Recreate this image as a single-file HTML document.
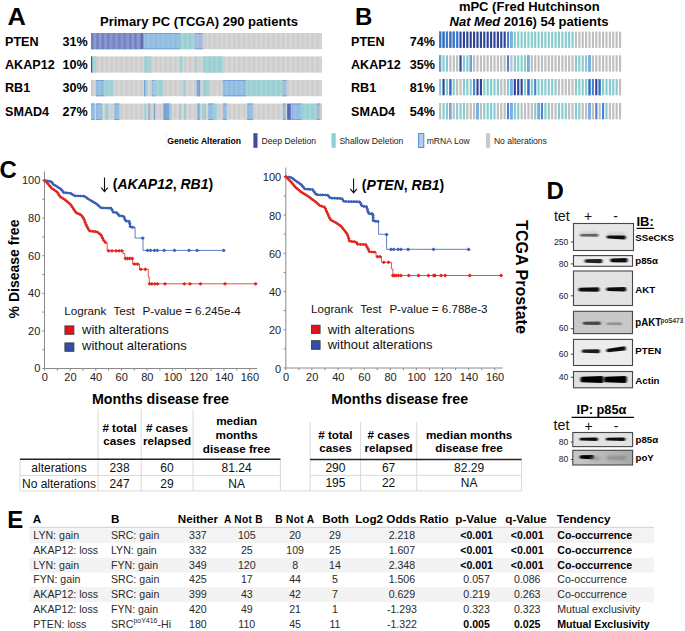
<!DOCTYPE html>
<html><head><meta charset="utf-8"><style>
html,body{margin:0;padding:0;background:#fff;}
svg{display:block;}
text{font-family:"Liberation Sans", sans-serif;}
</style></head><body>
<svg width="685" height="631" viewBox="0 0 685 631" font-family="Liberation Sans, sans-serif">
<defs><pattern id="stripeA" x="91" y="0" width="4.9" height="10" patternUnits="userSpaceOnUse"><rect x="0" y="0" width="2.2" height="10" fill="#000" fill-opacity="0.045"/></pattern><pattern id="stripeDD" x="91" y="0" width="5.4" height="10" patternUnits="userSpaceOnUse"><rect x="0" y="0" width="2.4" height="10" fill="#1a2a80" fill-opacity="0.2"/></pattern><filter id="bl1" x="-20%" y="-200%" width="140%" height="500%"><feGaussianBlur stdDeviation="1.0 0.75"/></filter><filter id="bl2" x="-20%" y="-200%" width="140%" height="500%"><feGaussianBlur stdDeviation="1.6 1.4"/></filter><linearGradient id="g5" x1="0" x2="1" y1="0" y2="0"><stop offset="0" stop-color="#c9c9c9"/><stop offset="1" stop-color="#a9a9a9"/></linearGradient></defs>
<rect width="685" height="631" fill="#fff"/>
<text x="355" y="24.5" font-size="24" font-weight="bold" fill="#000">B</text>
<text x="-0.5" y="177.6" font-size="24" font-weight="bold" fill="#000">C</text>
<text x="546.5" y="198.5" font-size="24" font-weight="bold" fill="#000">D</text>
<text x="7.3" y="528" font-size="24" font-weight="bold" fill="#000">E</text>
<text x="0" y="0" font-size="24" font-weight="bold" transform="translate(7.6,25) scale(1.06,1)">A</text>
<text x="100" y="26" font-size="13" font-weight="bold" fill="#000">Primary PC (TCGA) 290 patients</text>
<text x="529.3" y="11" font-size="13" font-weight="bold" text-anchor="middle" fill="#000">mPC (Fred Hutchinson</text>
<text x="529" y="26.3" font-size="13" font-weight="bold" text-anchor="middle"><tspan font-style="italic">Nat Med</tspan> 2016) 54 patients</text>
<text x="5" y="45.5" font-size="12.6" font-weight="bold" fill="#000">PTEN</text>
<text x="87.8" y="45.5" font-size="12.6" font-weight="bold" text-anchor="end" fill="#000">31%</text>
<text x="351" y="45.5" font-size="12.6" font-weight="bold" fill="#000">PTEN</text>
<text x="435" y="45.5" font-size="12.6" font-weight="bold" text-anchor="end" fill="#000">74%</text>
<text x="5" y="69" font-size="12.6" font-weight="bold" fill="#000">AKAP12</text>
<text x="87.8" y="69" font-size="12.6" font-weight="bold" text-anchor="end" fill="#000">10%</text>
<text x="351" y="69" font-size="12.6" font-weight="bold" fill="#000">AKAP12</text>
<text x="435" y="69" font-size="12.6" font-weight="bold" text-anchor="end" fill="#000">35%</text>
<text x="5" y="92.4" font-size="12.6" font-weight="bold" fill="#000">RB1</text>
<text x="87.8" y="92.4" font-size="12.6" font-weight="bold" text-anchor="end" fill="#000">30%</text>
<text x="351" y="92.4" font-size="12.6" font-weight="bold" fill="#000">RB1</text>
<text x="435" y="92.4" font-size="12.6" font-weight="bold" text-anchor="end" fill="#000">81%</text>
<text x="5" y="115.8" font-size="12.6" font-weight="bold" fill="#000">SMAD4</text>
<text x="87.8" y="115.8" font-size="12.6" font-weight="bold" text-anchor="end" fill="#000">27%</text>
<text x="351" y="115.8" font-size="12.6" font-weight="bold" fill="#000">SMAD4</text>
<text x="435" y="115.8" font-size="12.6" font-weight="bold" text-anchor="end" fill="#000">54%</text>
<rect x="91.00" y="33.00" width="231.00" height="16.20" fill="#d6d6d6"/>
<rect x="91.00" y="33.00" width="49.60" height="16.20" fill="#8d9bd4"/>
<rect x="91.00" y="33.00" width="49.60" height="0.80" fill="#6f9fde"/>
<rect x="91.00" y="48.40" width="49.60" height="0.80" fill="#6f9fde"/>
<rect x="140.60" y="33.00" width="3.10" height="16.20" fill="#6670b6"/>
<rect x="143.70" y="33.00" width="36.30" height="16.20" fill="#98c3e6"/>
<rect x="143.70" y="33.00" width="36.30" height="0.80" fill="#6f9fde"/>
<rect x="143.70" y="48.40" width="36.30" height="0.80" fill="#6f9fde"/>
<rect x="180.00" y="33.00" width="14.90" height="16.20" fill="#a3d6d9"/>
<rect x="194.90" y="33.00" width="7.90" height="16.20" fill="#aebde3"/>
<rect x="194.90" y="33.00" width="7.90" height="0.80" fill="#6f9fde"/>
<rect x="194.90" y="48.40" width="7.90" height="0.80" fill="#6f9fde"/>
<rect x="91.00" y="33.00" width="231.00" height="16.20" fill="url(#stripeA)"/>
<rect x="91.00" y="56.40" width="231.00" height="16.20" fill="#d6d6d6"/>
<rect x="91.00" y="56.40" width="1.40" height="16.20" fill="#4a55a8"/>
<rect x="92.40" y="56.40" width="3.50" height="16.20" fill="#a3d6d9"/>
<rect x="144.00" y="56.40" width="6.70" height="16.20" fill="#a3d6d9"/>
<rect x="180.00" y="56.40" width="2.60" height="16.20" fill="#a3d6d9"/>
<rect x="195.70" y="56.40" width="1.80" height="16.20" fill="#a3d6d9"/>
<rect x="202.70" y="56.40" width="20.10" height="16.20" fill="#a3d6d9"/>
<rect x="91.00" y="56.40" width="231.00" height="16.20" fill="url(#stripeA)"/>
<rect x="91.00" y="80.00" width="231.00" height="16.20" fill="#d6d6d6"/>
<rect x="95.90" y="80.00" width="8.70" height="16.20" fill="#98c3e6"/>
<rect x="95.90" y="80.00" width="8.70" height="0.80" fill="#6f9fde"/>
<rect x="95.90" y="95.40" width="8.70" height="0.80" fill="#6f9fde"/>
<rect x="104.60" y="80.00" width="8.80" height="16.20" fill="#a3d6d9"/>
<rect x="144.00" y="80.00" width="1.50" height="16.20" fill="#7fa6dc"/>
<rect x="144.00" y="80.00" width="1.50" height="0.80" fill="#6f9fde"/>
<rect x="144.00" y="95.40" width="1.50" height="0.80" fill="#6f9fde"/>
<rect x="145.50" y="80.00" width="2.10" height="16.20" fill="#a3d6d9"/>
<rect x="152.00" y="80.00" width="2.60" height="16.20" fill="#98c3e6"/>
<rect x="152.00" y="80.00" width="2.60" height="0.80" fill="#6f9fde"/>
<rect x="152.00" y="95.40" width="2.60" height="0.80" fill="#6f9fde"/>
<rect x="154.60" y="80.00" width="8.70" height="16.20" fill="#a3d6d9"/>
<rect x="182.60" y="80.00" width="2.60" height="16.20" fill="#a3d6d9"/>
<rect x="196.60" y="80.00" width="3.50" height="16.20" fill="#7fa6dc"/>
<rect x="196.60" y="80.00" width="3.50" height="0.80" fill="#6f9fde"/>
<rect x="196.60" y="95.40" width="3.50" height="0.80" fill="#6f9fde"/>
<rect x="202.80" y="80.00" width="6.00" height="16.20" fill="#a3d6d9"/>
<rect x="222.80" y="80.00" width="23.70" height="16.20" fill="#98c3e6"/>
<rect x="222.80" y="80.00" width="23.70" height="0.80" fill="#6f9fde"/>
<rect x="222.80" y="95.40" width="23.70" height="0.80" fill="#6f9fde"/>
<rect x="246.50" y="80.00" width="36.50" height="16.20" fill="#a3d6d9"/>
<rect x="283.00" y="80.00" width="3.70" height="16.20" fill="#aebde3"/>
<rect x="283.00" y="80.00" width="3.70" height="0.80" fill="#6f9fde"/>
<rect x="283.00" y="95.40" width="3.70" height="0.80" fill="#6f9fde"/>
<rect x="91.00" y="80.00" width="231.00" height="16.20" fill="url(#stripeA)"/>
<rect x="91.00" y="103.60" width="231.00" height="16.20" fill="#d6d6d6"/>
<rect x="91.00" y="103.60" width="4.00" height="16.20" fill="#98c3e6"/>
<rect x="91.00" y="103.60" width="4.00" height="0.80" fill="#6f9fde"/>
<rect x="91.00" y="119.00" width="4.00" height="0.80" fill="#6f9fde"/>
<rect x="96.00" y="103.60" width="6.00" height="16.20" fill="#98c3e6"/>
<rect x="96.00" y="103.60" width="6.00" height="0.80" fill="#6f9fde"/>
<rect x="96.00" y="119.00" width="6.00" height="0.80" fill="#6f9fde"/>
<rect x="104.60" y="103.60" width="4.10" height="16.20" fill="#a3d6d9"/>
<rect x="114.00" y="103.60" width="5.50" height="16.20" fill="#98c3e6"/>
<rect x="114.00" y="103.60" width="5.50" height="0.80" fill="#6f9fde"/>
<rect x="114.00" y="119.00" width="5.50" height="0.80" fill="#6f9fde"/>
<rect x="144.00" y="103.60" width="1.80" height="16.20" fill="#a3d6d9"/>
<rect x="148.40" y="103.60" width="1.30" height="16.20" fill="#7fa6dc"/>
<rect x="148.40" y="103.60" width="1.30" height="0.80" fill="#6f9fde"/>
<rect x="148.40" y="119.00" width="1.30" height="0.80" fill="#6f9fde"/>
<rect x="153.70" y="103.60" width="1.30" height="16.20" fill="#7fa6dc"/>
<rect x="153.70" y="103.60" width="1.30" height="0.80" fill="#6f9fde"/>
<rect x="153.70" y="119.00" width="1.30" height="0.80" fill="#6f9fde"/>
<rect x="163.30" y="103.60" width="6.20" height="16.20" fill="#7fa6dc"/>
<rect x="163.30" y="103.60" width="6.20" height="0.80" fill="#6f9fde"/>
<rect x="163.30" y="119.00" width="6.20" height="0.80" fill="#6f9fde"/>
<rect x="169.50" y="103.60" width="2.00" height="16.20" fill="#a3d6d9"/>
<rect x="179.00" y="103.60" width="1.70" height="16.20" fill="#a3d6d9"/>
<rect x="184.00" y="103.60" width="2.00" height="16.20" fill="#a3d6d9"/>
<rect x="197.50" y="103.60" width="2.00" height="16.20" fill="#7fa6dc"/>
<rect x="197.50" y="103.60" width="2.00" height="0.80" fill="#6f9fde"/>
<rect x="197.50" y="119.00" width="2.00" height="0.80" fill="#6f9fde"/>
<rect x="202.00" y="103.60" width="4.00" height="16.20" fill="#a3d6d9"/>
<rect x="208.20" y="103.60" width="5.50" height="16.20" fill="#98c3e6"/>
<rect x="208.20" y="103.60" width="5.50" height="0.80" fill="#6f9fde"/>
<rect x="208.20" y="119.00" width="5.50" height="0.80" fill="#6f9fde"/>
<rect x="213.70" y="103.60" width="3.60" height="16.20" fill="#a3d6d9"/>
<rect x="222.80" y="103.60" width="4.20" height="16.20" fill="#98c3e6"/>
<rect x="222.80" y="103.60" width="4.20" height="0.80" fill="#6f9fde"/>
<rect x="222.80" y="119.00" width="4.20" height="0.80" fill="#6f9fde"/>
<rect x="247.00" y="103.60" width="6.00" height="16.20" fill="#98c3e6"/>
<rect x="247.00" y="103.60" width="6.00" height="0.80" fill="#6f9fde"/>
<rect x="247.00" y="119.00" width="6.00" height="0.80" fill="#6f9fde"/>
<rect x="283.00" y="103.60" width="2.80" height="16.20" fill="#98c3e6"/>
<rect x="283.00" y="103.60" width="2.80" height="0.80" fill="#6f9fde"/>
<rect x="283.00" y="119.00" width="2.80" height="0.80" fill="#6f9fde"/>
<rect x="287.20" y="103.60" width="3.70" height="16.20" fill="#5a6bba"/>
<rect x="290.90" y="103.60" width="10.90" height="16.20" fill="#98c3e6"/>
<rect x="290.90" y="103.60" width="10.90" height="0.80" fill="#6f9fde"/>
<rect x="290.90" y="119.00" width="10.90" height="0.80" fill="#6f9fde"/>
<rect x="301.80" y="103.60" width="15.00" height="16.20" fill="#a3d6d9"/>
<rect x="316.80" y="103.60" width="3.60" height="16.20" fill="#aebde3"/>
<rect x="316.80" y="103.60" width="3.60" height="0.80" fill="#6f9fde"/>
<rect x="316.80" y="119.00" width="3.60" height="0.80" fill="#6f9fde"/>
<rect x="91.00" y="103.60" width="231.00" height="16.20" fill="url(#stripeA)"/>
<rect x="91.00" y="33.00" width="49.60" height="16.20" fill="url(#stripeDD)"/>
<rect x="439.10" y="31.60" width="2.15" height="16.30" fill="#2d4fa8"/>
<rect x="439.50" y="32.00" width="1.35" height="15.50" fill="none" stroke="#4a8fd8" stroke-width="0.8"/>
<rect x="442.49" y="31.60" width="2.15" height="16.30" fill="#2d4fa8"/>
<rect x="442.89" y="32.00" width="1.35" height="15.50" fill="none" stroke="#4a8fd8" stroke-width="0.8"/>
<rect x="445.89" y="31.60" width="2.15" height="16.30" fill="#2d4fa8"/>
<rect x="446.29" y="32.00" width="1.35" height="15.50" fill="none" stroke="#4a8fd8" stroke-width="0.8"/>
<rect x="449.28" y="31.60" width="2.15" height="16.30" fill="#2d4fa8"/>
<rect x="449.68" y="32.00" width="1.35" height="15.50" fill="none" stroke="#4a8fd8" stroke-width="0.8"/>
<rect x="452.68" y="31.60" width="2.15" height="16.30" fill="#2d4fa8"/>
<rect x="453.08" y="32.00" width="1.35" height="15.50" fill="none" stroke="#4a8fd8" stroke-width="0.8"/>
<rect x="456.07" y="31.60" width="2.15" height="16.30" fill="#2d4fa8"/>
<rect x="456.47" y="32.00" width="1.35" height="15.50" fill="none" stroke="#4a8fd8" stroke-width="0.8"/>
<rect x="459.46" y="31.60" width="2.15" height="16.30" fill="#2f4398"/>
<rect x="462.86" y="31.60" width="2.15" height="16.30" fill="#2f4398"/>
<rect x="466.25" y="31.60" width="2.15" height="16.30" fill="#2f4398"/>
<rect x="469.65" y="31.60" width="2.15" height="16.30" fill="#2f4398"/>
<rect x="473.04" y="31.60" width="2.15" height="16.30" fill="#2f4398"/>
<rect x="476.43" y="31.60" width="2.15" height="16.30" fill="#2f4398"/>
<rect x="479.83" y="31.60" width="2.15" height="16.30" fill="#2f4398"/>
<rect x="483.22" y="31.60" width="2.15" height="16.30" fill="#2f4398"/>
<rect x="486.62" y="31.60" width="2.15" height="16.30" fill="#2f4398"/>
<rect x="490.01" y="31.60" width="2.15" height="16.30" fill="#2f4398"/>
<rect x="493.40" y="31.60" width="2.15" height="16.30" fill="#2f4398"/>
<rect x="496.80" y="31.60" width="2.15" height="16.30" fill="#2f4398"/>
<rect x="500.19" y="31.60" width="2.15" height="16.30" fill="#2f4398"/>
<rect x="503.59" y="31.60" width="2.15" height="16.30" fill="#2f4398"/>
<rect x="506.98" y="31.60" width="2.15" height="16.30" fill="#4b82cf"/>
<rect x="510.37" y="31.60" width="2.15" height="16.30" fill="#a9c4e6"/>
<rect x="510.77" y="32.00" width="1.35" height="15.50" fill="none" stroke="#4a8fd8" stroke-width="0.8"/>
<rect x="513.77" y="31.60" width="2.15" height="16.30" fill="#86cccf"/>
<rect x="517.16" y="31.60" width="2.15" height="16.30" fill="#86cccf"/>
<rect x="520.56" y="31.60" width="2.15" height="16.30" fill="#86cccf"/>
<rect x="523.95" y="31.60" width="2.15" height="16.30" fill="#86cccf"/>
<rect x="527.34" y="31.60" width="2.15" height="16.30" fill="#86cccf"/>
<rect x="530.74" y="31.60" width="2.15" height="16.30" fill="#86cccf"/>
<rect x="534.13" y="31.60" width="2.15" height="16.30" fill="#86cccf"/>
<rect x="537.53" y="31.60" width="2.15" height="16.30" fill="#86cccf"/>
<rect x="540.92" y="31.60" width="2.15" height="16.30" fill="#86cccf"/>
<rect x="544.31" y="31.60" width="2.15" height="16.30" fill="#86cccf"/>
<rect x="547.71" y="31.60" width="2.15" height="16.30" fill="#86cccf"/>
<rect x="551.10" y="31.60" width="2.15" height="16.30" fill="#86cccf"/>
<rect x="554.50" y="31.60" width="2.15" height="16.30" fill="#86cccf"/>
<rect x="557.89" y="31.60" width="2.15" height="16.30" fill="#86cccf"/>
<rect x="561.28" y="31.60" width="2.15" height="16.30" fill="#86cccf"/>
<rect x="564.68" y="31.60" width="2.15" height="16.30" fill="#86cccf"/>
<rect x="568.07" y="31.60" width="2.15" height="16.30" fill="#86cccf"/>
<rect x="571.47" y="31.60" width="2.15" height="16.30" fill="#86cccf"/>
<rect x="574.86" y="31.60" width="2.15" height="16.30" fill="#bfbfbf"/>
<rect x="578.25" y="31.60" width="2.15" height="16.30" fill="#bfbfbf"/>
<rect x="581.65" y="31.60" width="2.15" height="16.30" fill="#bfbfbf"/>
<rect x="585.04" y="31.60" width="2.15" height="16.30" fill="#bfbfbf"/>
<rect x="588.44" y="31.60" width="2.15" height="16.30" fill="#bfbfbf"/>
<rect x="591.83" y="31.60" width="2.15" height="16.30" fill="#bfbfbf"/>
<rect x="595.22" y="31.60" width="2.15" height="16.30" fill="#bfbfbf"/>
<rect x="598.62" y="31.60" width="2.15" height="16.30" fill="#bfbfbf"/>
<rect x="602.01" y="31.60" width="2.15" height="16.30" fill="#bfbfbf"/>
<rect x="605.41" y="31.60" width="2.15" height="16.30" fill="#bfbfbf"/>
<rect x="608.80" y="31.60" width="2.15" height="16.30" fill="#bfbfbf"/>
<rect x="612.19" y="31.60" width="2.15" height="16.30" fill="#bfbfbf"/>
<rect x="615.59" y="31.60" width="2.15" height="16.30" fill="#bfbfbf"/>
<rect x="618.98" y="31.60" width="2.15" height="16.30" fill="#bfbfbf"/>
<rect x="439.10" y="55.30" width="2.15" height="16.30" fill="#a9c4e6"/>
<rect x="439.50" y="55.70" width="1.35" height="15.50" fill="none" stroke="#4a8fd8" stroke-width="0.8"/>
<rect x="442.49" y="55.30" width="2.15" height="16.30" fill="#86cccf"/>
<rect x="445.89" y="55.30" width="2.15" height="16.30" fill="#86cccf"/>
<rect x="449.28" y="55.30" width="2.15" height="16.30" fill="#bfbfbf"/>
<rect x="452.68" y="55.30" width="2.15" height="16.30" fill="#bfbfbf"/>
<rect x="456.07" y="55.30" width="2.15" height="16.30" fill="#bfbfbf"/>
<rect x="459.46" y="55.30" width="2.15" height="16.30" fill="#2f4398"/>
<rect x="462.86" y="55.30" width="2.15" height="16.30" fill="#86cccf"/>
<rect x="466.25" y="55.30" width="2.15" height="16.30" fill="#86cccf"/>
<rect x="469.65" y="55.30" width="2.15" height="16.30" fill="#a9c4e6"/>
<rect x="470.05" y="55.70" width="1.35" height="15.50" fill="none" stroke="#4a8fd8" stroke-width="0.8"/>
<rect x="473.04" y="55.30" width="2.15" height="16.30" fill="#bfbfbf"/>
<rect x="476.43" y="55.30" width="2.15" height="16.30" fill="#bfbfbf"/>
<rect x="479.83" y="55.30" width="2.15" height="16.30" fill="#bfbfbf"/>
<rect x="483.22" y="55.30" width="2.15" height="16.30" fill="#bfbfbf"/>
<rect x="486.62" y="55.30" width="2.15" height="16.30" fill="#bfbfbf"/>
<rect x="490.01" y="55.30" width="2.15" height="16.30" fill="#bfbfbf"/>
<rect x="493.40" y="55.30" width="2.15" height="16.30" fill="#bfbfbf"/>
<rect x="496.80" y="55.30" width="2.15" height="16.30" fill="#bfbfbf"/>
<rect x="500.19" y="55.30" width="2.15" height="16.30" fill="#bfbfbf"/>
<rect x="503.59" y="55.30" width="2.15" height="16.30" fill="#bfbfbf"/>
<rect x="506.98" y="55.30" width="2.15" height="16.30" fill="#4b82cf"/>
<rect x="510.37" y="55.30" width="2.15" height="16.30" fill="#bfbfbf"/>
<rect x="513.77" y="55.30" width="2.15" height="16.30" fill="#86cccf"/>
<rect x="517.16" y="55.30" width="2.15" height="16.30" fill="#86cccf"/>
<rect x="520.56" y="55.30" width="2.15" height="16.30" fill="#86cccf"/>
<rect x="523.95" y="55.30" width="2.15" height="16.30" fill="#86cccf"/>
<rect x="527.34" y="55.30" width="2.15" height="16.30" fill="#a9c4e6"/>
<rect x="527.74" y="55.70" width="1.35" height="15.50" fill="none" stroke="#4a8fd8" stroke-width="0.8"/>
<rect x="530.74" y="55.30" width="2.15" height="16.30" fill="#bfbfbf"/>
<rect x="534.13" y="55.30" width="2.15" height="16.30" fill="#bfbfbf"/>
<rect x="537.53" y="55.30" width="2.15" height="16.30" fill="#bfbfbf"/>
<rect x="540.92" y="55.30" width="2.15" height="16.30" fill="#bfbfbf"/>
<rect x="544.31" y="55.30" width="2.15" height="16.30" fill="#bfbfbf"/>
<rect x="547.71" y="55.30" width="2.15" height="16.30" fill="#bfbfbf"/>
<rect x="551.10" y="55.30" width="2.15" height="16.30" fill="#bfbfbf"/>
<rect x="554.50" y="55.30" width="2.15" height="16.30" fill="#bfbfbf"/>
<rect x="557.89" y="55.30" width="2.15" height="16.30" fill="#bfbfbf"/>
<rect x="561.28" y="55.30" width="2.15" height="16.30" fill="#bfbfbf"/>
<rect x="564.68" y="55.30" width="2.15" height="16.30" fill="#bfbfbf"/>
<rect x="568.07" y="55.30" width="2.15" height="16.30" fill="#bfbfbf"/>
<rect x="571.47" y="55.30" width="2.15" height="16.30" fill="#bfbfbf"/>
<rect x="574.86" y="55.30" width="2.15" height="16.30" fill="#86cccf"/>
<rect x="578.25" y="55.30" width="2.15" height="16.30" fill="#86cccf"/>
<rect x="581.65" y="55.30" width="2.15" height="16.30" fill="#86cccf"/>
<rect x="585.04" y="55.30" width="2.15" height="16.30" fill="#86cccf"/>
<rect x="588.44" y="55.30" width="2.15" height="16.30" fill="#a9c4e6"/>
<rect x="588.84" y="55.70" width="1.35" height="15.50" fill="none" stroke="#4a8fd8" stroke-width="0.8"/>
<rect x="591.83" y="55.30" width="2.15" height="16.30" fill="#bfbfbf"/>
<rect x="595.22" y="55.30" width="2.15" height="16.30" fill="#bfbfbf"/>
<rect x="598.62" y="55.30" width="2.15" height="16.30" fill="#bfbfbf"/>
<rect x="602.01" y="55.30" width="2.15" height="16.30" fill="#bfbfbf"/>
<rect x="605.41" y="55.30" width="2.15" height="16.30" fill="#bfbfbf"/>
<rect x="608.80" y="55.30" width="2.15" height="16.30" fill="#bfbfbf"/>
<rect x="612.19" y="55.30" width="2.15" height="16.30" fill="#bfbfbf"/>
<rect x="615.59" y="55.30" width="2.15" height="16.30" fill="#bfbfbf"/>
<rect x="618.98" y="55.30" width="2.15" height="16.30" fill="#bfbfbf"/>
<rect x="439.10" y="79.00" width="2.15" height="16.30" fill="#86cccf"/>
<rect x="442.49" y="79.00" width="2.15" height="16.30" fill="#2f4398"/>
<rect x="445.89" y="79.00" width="2.15" height="16.30" fill="#86cccf"/>
<rect x="449.28" y="79.00" width="2.15" height="16.30" fill="#2d4fa8"/>
<rect x="449.68" y="79.40" width="1.35" height="15.50" fill="none" stroke="#4a8fd8" stroke-width="0.8"/>
<rect x="452.68" y="79.00" width="2.15" height="16.30" fill="#86cccf"/>
<rect x="456.07" y="79.00" width="2.15" height="16.30" fill="#bfbfbf"/>
<rect x="459.46" y="79.00" width="2.15" height="16.30" fill="#bfbfbf"/>
<rect x="462.86" y="79.00" width="2.15" height="16.30" fill="#86cccf"/>
<rect x="466.25" y="79.00" width="2.15" height="16.30" fill="#86cccf"/>
<rect x="469.65" y="79.00" width="2.15" height="16.30" fill="#86cccf"/>
<rect x="473.04" y="79.00" width="2.15" height="16.30" fill="#4b82cf"/>
<rect x="476.43" y="79.00" width="2.15" height="16.30" fill="#2f4398"/>
<rect x="479.83" y="79.00" width="2.15" height="16.30" fill="#2f4398"/>
<rect x="483.22" y="79.00" width="2.15" height="16.30" fill="#86cccf"/>
<rect x="486.62" y="79.00" width="2.15" height="16.30" fill="#86cccf"/>
<rect x="490.01" y="79.00" width="2.15" height="16.30" fill="#86cccf"/>
<rect x="493.40" y="79.00" width="2.15" height="16.30" fill="#86cccf"/>
<rect x="496.80" y="79.00" width="2.15" height="16.30" fill="#86cccf"/>
<rect x="500.19" y="79.00" width="2.15" height="16.30" fill="#bfbfbf"/>
<rect x="503.59" y="79.00" width="2.15" height="16.30" fill="#bfbfbf"/>
<rect x="506.98" y="79.00" width="2.15" height="16.30" fill="#86cccf"/>
<rect x="510.37" y="79.00" width="2.15" height="16.30" fill="#a9c4e6"/>
<rect x="510.77" y="79.40" width="1.35" height="15.50" fill="none" stroke="#4a8fd8" stroke-width="0.8"/>
<rect x="513.77" y="79.00" width="2.15" height="16.30" fill="#2f4398"/>
<rect x="517.16" y="79.00" width="2.15" height="16.30" fill="#2f4398"/>
<rect x="520.56" y="79.00" width="2.15" height="16.30" fill="#2f4398"/>
<rect x="523.95" y="79.00" width="2.15" height="16.30" fill="#86cccf"/>
<rect x="527.34" y="79.00" width="2.15" height="16.30" fill="#2d4fa8"/>
<rect x="527.74" y="79.40" width="1.35" height="15.50" fill="none" stroke="#4a8fd8" stroke-width="0.8"/>
<rect x="530.74" y="79.00" width="2.15" height="16.30" fill="#86cccf"/>
<rect x="534.13" y="79.00" width="2.15" height="16.30" fill="#4b82cf"/>
<rect x="537.53" y="79.00" width="2.15" height="16.30" fill="#86cccf"/>
<rect x="540.92" y="79.00" width="2.15" height="16.30" fill="#86cccf"/>
<rect x="544.31" y="79.00" width="2.15" height="16.30" fill="#86cccf"/>
<rect x="547.71" y="79.00" width="2.15" height="16.30" fill="#86cccf"/>
<rect x="551.10" y="79.00" width="2.15" height="16.30" fill="#86cccf"/>
<rect x="554.50" y="79.00" width="2.15" height="16.30" fill="#86cccf"/>
<rect x="557.89" y="79.00" width="2.15" height="16.30" fill="#bfbfbf"/>
<rect x="561.28" y="79.00" width="2.15" height="16.30" fill="#bfbfbf"/>
<rect x="564.68" y="79.00" width="2.15" height="16.30" fill="#bfbfbf"/>
<rect x="568.07" y="79.00" width="2.15" height="16.30" fill="#bfbfbf"/>
<rect x="571.47" y="79.00" width="2.15" height="16.30" fill="#bfbfbf"/>
<rect x="574.86" y="79.00" width="2.15" height="16.30" fill="#86cccf"/>
<rect x="578.25" y="79.00" width="2.15" height="16.30" fill="#86cccf"/>
<rect x="581.65" y="79.00" width="2.15" height="16.30" fill="#86cccf"/>
<rect x="585.04" y="79.00" width="2.15" height="16.30" fill="#86cccf"/>
<rect x="588.44" y="79.00" width="2.15" height="16.30" fill="#2d4fa8"/>
<rect x="588.84" y="79.40" width="1.35" height="15.50" fill="none" stroke="#4a8fd8" stroke-width="0.8"/>
<rect x="591.83" y="79.00" width="2.15" height="16.30" fill="#4b82cf"/>
<rect x="595.22" y="79.00" width="2.15" height="16.30" fill="#2f4398"/>
<rect x="598.62" y="79.00" width="2.15" height="16.30" fill="#2d4fa8"/>
<rect x="599.02" y="79.40" width="1.35" height="15.50" fill="none" stroke="#4a8fd8" stroke-width="0.8"/>
<rect x="602.01" y="79.00" width="2.15" height="16.30" fill="#86cccf"/>
<rect x="605.41" y="79.00" width="2.15" height="16.30" fill="#86cccf"/>
<rect x="608.80" y="79.00" width="2.15" height="16.30" fill="#86cccf"/>
<rect x="612.19" y="79.00" width="2.15" height="16.30" fill="#86cccf"/>
<rect x="615.59" y="79.00" width="2.15" height="16.30" fill="#86cccf"/>
<rect x="618.98" y="79.00" width="2.15" height="16.30" fill="#bfbfbf"/>
<rect x="439.10" y="103.00" width="2.15" height="16.30" fill="#bfbfbf"/>
<rect x="442.49" y="103.00" width="2.15" height="16.30" fill="#86cccf"/>
<rect x="445.89" y="103.00" width="2.15" height="16.30" fill="#86cccf"/>
<rect x="449.28" y="103.00" width="2.15" height="16.30" fill="#a9c4e6"/>
<rect x="449.68" y="103.40" width="1.35" height="15.50" fill="none" stroke="#4a8fd8" stroke-width="0.8"/>
<rect x="452.68" y="103.00" width="2.15" height="16.30" fill="#bfbfbf"/>
<rect x="456.07" y="103.00" width="2.15" height="16.30" fill="#86cccf"/>
<rect x="459.46" y="103.00" width="2.15" height="16.30" fill="#86cccf"/>
<rect x="462.86" y="103.00" width="2.15" height="16.30" fill="#86cccf"/>
<rect x="466.25" y="103.00" width="2.15" height="16.30" fill="#bfbfbf"/>
<rect x="469.65" y="103.00" width="2.15" height="16.30" fill="#bfbfbf"/>
<rect x="473.04" y="103.00" width="2.15" height="16.30" fill="#bfbfbf"/>
<rect x="476.43" y="103.00" width="2.15" height="16.30" fill="#a9c4e6"/>
<rect x="476.83" y="103.40" width="1.35" height="15.50" fill="none" stroke="#4a8fd8" stroke-width="0.8"/>
<rect x="479.83" y="103.00" width="2.15" height="16.30" fill="#bfbfbf"/>
<rect x="483.22" y="103.00" width="2.15" height="16.30" fill="#86cccf"/>
<rect x="486.62" y="103.00" width="2.15" height="16.30" fill="#86cccf"/>
<rect x="490.01" y="103.00" width="2.15" height="16.30" fill="#86cccf"/>
<rect x="493.40" y="103.00" width="2.15" height="16.30" fill="#86cccf"/>
<rect x="496.80" y="103.00" width="2.15" height="16.30" fill="#bfbfbf"/>
<rect x="500.19" y="103.00" width="2.15" height="16.30" fill="#bfbfbf"/>
<rect x="503.59" y="103.00" width="2.15" height="16.30" fill="#bfbfbf"/>
<rect x="506.98" y="103.00" width="2.15" height="16.30" fill="#4b82cf"/>
<rect x="510.37" y="103.00" width="2.15" height="16.30" fill="#a9c4e6"/>
<rect x="510.77" y="103.40" width="1.35" height="15.50" fill="none" stroke="#4a8fd8" stroke-width="0.8"/>
<rect x="513.77" y="103.00" width="2.15" height="16.30" fill="#86cccf"/>
<rect x="517.16" y="103.00" width="2.15" height="16.30" fill="#86cccf"/>
<rect x="520.56" y="103.00" width="2.15" height="16.30" fill="#bfbfbf"/>
<rect x="523.95" y="103.00" width="2.15" height="16.30" fill="#bfbfbf"/>
<rect x="527.34" y="103.00" width="2.15" height="16.30" fill="#bfbfbf"/>
<rect x="530.74" y="103.00" width="2.15" height="16.30" fill="#bfbfbf"/>
<rect x="534.13" y="103.00" width="2.15" height="16.30" fill="#86cccf"/>
<rect x="537.53" y="103.00" width="2.15" height="16.30" fill="#a9c4e6"/>
<rect x="537.93" y="103.40" width="1.35" height="15.50" fill="none" stroke="#4a8fd8" stroke-width="0.8"/>
<rect x="540.92" y="103.00" width="2.15" height="16.30" fill="#4b82cf"/>
<rect x="544.31" y="103.00" width="2.15" height="16.30" fill="#86cccf"/>
<rect x="547.71" y="103.00" width="2.15" height="16.30" fill="#86cccf"/>
<rect x="551.10" y="103.00" width="2.15" height="16.30" fill="#bfbfbf"/>
<rect x="554.50" y="103.00" width="2.15" height="16.30" fill="#bfbfbf"/>
<rect x="557.89" y="103.00" width="2.15" height="16.30" fill="#86cccf"/>
<rect x="561.28" y="103.00" width="2.15" height="16.30" fill="#86cccf"/>
<rect x="564.68" y="103.00" width="2.15" height="16.30" fill="#86cccf"/>
<rect x="568.07" y="103.00" width="2.15" height="16.30" fill="#bfbfbf"/>
<rect x="571.47" y="103.00" width="2.15" height="16.30" fill="#bfbfbf"/>
<rect x="574.86" y="103.00" width="2.15" height="16.30" fill="#86cccf"/>
<rect x="578.25" y="103.00" width="2.15" height="16.30" fill="#86cccf"/>
<rect x="581.65" y="103.00" width="2.15" height="16.30" fill="#bfbfbf"/>
<rect x="585.04" y="103.00" width="2.15" height="16.30" fill="#bfbfbf"/>
<rect x="588.44" y="103.00" width="2.15" height="16.30" fill="#a9c4e6"/>
<rect x="588.84" y="103.40" width="1.35" height="15.50" fill="none" stroke="#4a8fd8" stroke-width="0.8"/>
<rect x="591.83" y="103.00" width="2.15" height="16.30" fill="#bfbfbf"/>
<rect x="595.22" y="103.00" width="2.15" height="16.30" fill="#4b82cf"/>
<rect x="598.62" y="103.00" width="2.15" height="16.30" fill="#bfbfbf"/>
<rect x="602.01" y="103.00" width="2.15" height="16.30" fill="#4b82cf"/>
<rect x="605.41" y="103.00" width="2.15" height="16.30" fill="#86cccf"/>
<rect x="608.80" y="103.00" width="2.15" height="16.30" fill="#bfbfbf"/>
<rect x="612.19" y="103.00" width="2.15" height="16.30" fill="#bfbfbf"/>
<rect x="615.59" y="103.00" width="2.15" height="16.30" fill="#bfbfbf"/>
<rect x="618.98" y="103.00" width="2.15" height="16.30" fill="#bfbfbf"/>
<line x1="166.5" y1="133" x2="166.5" y2="148" stroke="#ececec" stroke-width="0.8"/>
<text x="167.3" y="143.7" font-size="8.6" font-weight="bold" fill="#000">Genetic Alteration</text>
<rect x="253.40" y="133.20" width="4.10" height="14.60" fill="#3a4ea0"/>
<text x="261.6" y="143.7" font-size="8.6" fill="#222">Deep Deletion</text>
<rect x="331.50" y="133.20" width="4.20" height="14.60" fill="#8ccfd4"/>
<text x="339.4" y="143.7" font-size="8.6" fill="#222">Shallow Deletion</text>
<rect x="418.60" y="133.50" width="5.20" height="14.00" fill="#b5cdea" stroke="#4a8fd8" stroke-width="1"/>
<text x="426.7" y="143.7" font-size="8.6" fill="#222">mRNA Low</text>
<rect x="486.00" y="133.20" width="4.10" height="14.60" fill="#c8c8c8"/>
<text x="493.9" y="143.7" font-size="8.6" fill="#222">No alterations</text>
<line x1="44.5" y1="171.5" x2="44.5" y2="368.5" stroke="#8a8a8a" stroke-width="1"/>
<line x1="44.5" y1="368.5" x2="257" y2="368.5" stroke="#8a8a8a" stroke-width="1"/>
<line x1="42.3" y1="368.5" x2="44.5" y2="368.5" stroke="#8a8a8a" stroke-width="1"/>
<text x="40.3" y="372.4" font-size="11" text-anchor="end" fill="#222">0</text>
<line x1="42.3" y1="349.7" x2="44.5" y2="349.7" stroke="#8a8a8a" stroke-width="1"/>
<line x1="42.3" y1="330.9" x2="44.5" y2="330.9" stroke="#8a8a8a" stroke-width="1"/>
<text x="40.3" y="334.79999999999995" font-size="11" text-anchor="end" fill="#222">20</text>
<line x1="42.3" y1="312.1" x2="44.5" y2="312.1" stroke="#8a8a8a" stroke-width="1"/>
<line x1="42.3" y1="293.3" x2="44.5" y2="293.3" stroke="#8a8a8a" stroke-width="1"/>
<text x="40.3" y="297.2" font-size="11" text-anchor="end" fill="#222">40</text>
<line x1="42.3" y1="274.5" x2="44.5" y2="274.5" stroke="#8a8a8a" stroke-width="1"/>
<line x1="42.3" y1="255.7" x2="44.5" y2="255.7" stroke="#8a8a8a" stroke-width="1"/>
<text x="40.3" y="259.59999999999997" font-size="11" text-anchor="end" fill="#222">60</text>
<line x1="42.3" y1="236.9" x2="44.5" y2="236.9" stroke="#8a8a8a" stroke-width="1"/>
<line x1="42.3" y1="218.10000000000002" x2="44.5" y2="218.10000000000002" stroke="#8a8a8a" stroke-width="1"/>
<text x="40.3" y="222.00000000000003" font-size="11" text-anchor="end" fill="#222">80</text>
<line x1="42.3" y1="199.3" x2="44.5" y2="199.3" stroke="#8a8a8a" stroke-width="1"/>
<line x1="42.3" y1="180.5" x2="44.5" y2="180.5" stroke="#8a8a8a" stroke-width="1"/>
<text x="40.3" y="184.4" font-size="11" text-anchor="end" fill="#222">100</text>
<line x1="44.5" y1="368.5" x2="44.5" y2="370.7" stroke="#8a8a8a" stroke-width="1"/>
<text x="44.8" y="381.1" font-size="11" text-anchor="middle" fill="#222">0</text>
<line x1="57.32" y1="368.5" x2="57.32" y2="370.7" stroke="#8a8a8a" stroke-width="1"/>
<line x1="70.14" y1="368.5" x2="70.14" y2="370.7" stroke="#8a8a8a" stroke-width="1"/>
<text x="70.44" y="381.1" font-size="11" text-anchor="middle" fill="#222">20</text>
<line x1="82.96000000000001" y1="368.5" x2="82.96000000000001" y2="370.7" stroke="#8a8a8a" stroke-width="1"/>
<line x1="95.78" y1="368.5" x2="95.78" y2="370.7" stroke="#8a8a8a" stroke-width="1"/>
<text x="96.08" y="381.1" font-size="11" text-anchor="middle" fill="#222">40</text>
<line x1="108.6" y1="368.5" x2="108.6" y2="370.7" stroke="#8a8a8a" stroke-width="1"/>
<line x1="121.42" y1="368.5" x2="121.42" y2="370.7" stroke="#8a8a8a" stroke-width="1"/>
<text x="121.72" y="381.1" font-size="11" text-anchor="middle" fill="#222">60</text>
<line x1="134.24" y1="368.5" x2="134.24" y2="370.7" stroke="#8a8a8a" stroke-width="1"/>
<line x1="147.06" y1="368.5" x2="147.06" y2="370.7" stroke="#8a8a8a" stroke-width="1"/>
<text x="147.36" y="381.1" font-size="11" text-anchor="middle" fill="#222">80</text>
<line x1="159.88" y1="368.5" x2="159.88" y2="370.7" stroke="#8a8a8a" stroke-width="1"/>
<line x1="172.7" y1="368.5" x2="172.7" y2="370.7" stroke="#8a8a8a" stroke-width="1"/>
<text x="173.0" y="381.1" font-size="11" text-anchor="middle" fill="#222">100</text>
<line x1="185.52" y1="368.5" x2="185.52" y2="370.7" stroke="#8a8a8a" stroke-width="1"/>
<line x1="198.34" y1="368.5" x2="198.34" y2="370.7" stroke="#8a8a8a" stroke-width="1"/>
<text x="198.64000000000001" y="381.1" font-size="11" text-anchor="middle" fill="#222">120</text>
<line x1="211.16" y1="368.5" x2="211.16" y2="370.7" stroke="#8a8a8a" stroke-width="1"/>
<line x1="223.98000000000002" y1="368.5" x2="223.98000000000002" y2="370.7" stroke="#8a8a8a" stroke-width="1"/>
<text x="224.28000000000003" y="381.1" font-size="11" text-anchor="middle" fill="#222">140</text>
<line x1="236.8" y1="368.5" x2="236.8" y2="370.7" stroke="#8a8a8a" stroke-width="1"/>
<line x1="249.62" y1="368.5" x2="249.62" y2="370.7" stroke="#8a8a8a" stroke-width="1"/>
<text x="249.92000000000002" y="381.1" font-size="11" text-anchor="middle" fill="#222">160</text>
<path d="M44.5,180.5 L51.4,181.6 L53.3,184.3 L60.9,189.0 L63.8,192.6 L70.4,193.2 L74.2,195.7 L84.7,196.2 L87.5,198.5 L97.0,204.2 L100.9,207.8 L111.3,208.2 L113.2,212.2 L117.0,212.6 L118.9,215.6 L123.7,216.2 L125.6,221.0 L129.4,221.4 L130.3,227.0 L134.1,227.4" fill="none" stroke="#3a60b6" stroke-width="2.0" stroke-linejoin="round" stroke-linecap="round"/>
<path d="M42.6,180.5L44.5,178.9L46.4,180.5L44.5,182.1ZM45.2,180.9L47.1,179.3L49.0,180.9L47.1,182.5ZM47.7,181.3L49.6,179.7L51.5,181.3L49.6,182.9ZM50.0,182.3L51.9,180.7L53.8,182.3L51.9,183.9ZM51.5,184.4L53.4,182.8L55.3,184.4L53.4,186.0ZM53.7,185.7L55.6,184.1L57.5,185.7L55.6,187.3ZM55.9,187.1L57.8,185.5L59.7,187.1L57.8,188.7ZM58.1,188.5L60.0,186.9L61.9,188.5L60.0,190.1ZM60.0,190.2L61.9,188.6L63.8,190.2L61.9,191.8ZM61.6,192.3L63.5,190.7L65.4,192.3L63.5,193.9ZM64.0,192.8L65.9,191.2L67.8,192.8L65.9,194.4ZM66.6,193.0L68.5,191.4L70.4,193.0L68.5,194.6ZM69.1,193.6L71.0,192.0L72.9,193.6L71.0,195.2ZM71.3,195.0L73.2,193.4L75.1,195.0L73.2,196.6ZM73.7,195.8L75.6,194.2L77.5,195.8L75.6,197.4ZM76.3,195.9L78.2,194.3L80.1,195.9L78.2,197.5ZM78.9,196.0L80.8,194.4L82.7,196.0L80.8,197.6ZM81.5,196.1L83.4,194.5L85.3,196.1L83.4,197.7ZM83.8,197.0L85.7,195.4L87.6,197.0L85.7,198.6ZM85.8,198.6L87.7,197.0L89.6,198.6L87.7,200.2ZM88.0,200.0L89.9,198.4L91.8,200.0L89.9,201.6ZM90.3,201.3L92.2,199.7L94.1,201.3L92.2,202.9ZM92.5,202.6L94.4,201.0L96.3,202.6L94.4,204.2ZM94.7,204.0L96.6,202.4L98.5,204.0L96.6,205.6ZM96.7,205.7L98.6,204.1L100.5,205.7L98.6,207.3ZM98.6,207.4L100.5,205.8L102.4,207.4L100.5,209.0ZM101.1,207.9L103.0,206.3L104.9,207.9L103.0,209.5ZM103.7,208.0L105.6,206.4L107.5,208.0L105.6,209.6ZM106.2,208.1L108.1,206.5L110.0,208.1L108.1,209.7ZM108.8,208.2L110.7,206.6L112.6,208.2L110.7,209.8ZM110.3,210.0L112.2,208.4L114.1,210.0L112.2,211.6ZM111.5,212.2L113.4,210.6L115.3,212.2L113.4,213.8ZM114.1,212.5L116.0,210.9L117.9,212.5L116.0,214.1ZM116.0,214.0L117.9,212.4L119.8,214.0L117.9,215.6ZM117.6,215.7L119.5,214.1L121.4,215.7L119.5,217.3ZM120.2,216.0L122.1,214.4L124.0,216.0L122.1,217.6ZM122.2,217.1L124.1,215.5L126.0,217.1L124.1,218.7ZM123.1,219.6L125.0,218.0L126.9,219.6L125.0,221.2ZM124.7,221.1L126.6,219.5L128.5,221.1L126.6,222.7ZM127.3,221.4L129.2,219.8L131.1,221.4L129.2,223.0ZM127.9,223.8L129.8,222.2L131.7,223.8L129.8,225.4ZM128.3,226.4L130.2,224.8L132.1,226.4L130.2,228.0ZM130.3,227.2L132.2,225.6L134.1,227.2L132.2,228.8Z" fill="#3a60b6"/>
<path d="M134.1,227.4 H135.1 V238.1 H143.0 V250.4 H223.7 V250.4" fill="none" stroke="#3a60b6" stroke-width="1" stroke-opacity="0.8"/>
<path d="M140.5,238.1 L142.7,236.2 L144.9,238.1 L142.7,240.0 Z" fill="#3a60b6"/>
<path d="M145.3,250.4 L147.5,248.5 L149.7,250.4 L147.5,252.3 Z" fill="#3a60b6"/>
<path d="M148.3,250.4 L150.5,248.5 L152.7,250.4 L150.5,252.3 Z" fill="#3a60b6"/>
<path d="M152.2,250.4 L154.4,248.5 L156.6,250.4 L154.4,252.3 Z" fill="#3a60b6"/>
<path d="M155.0,250.4 L157.2,248.5 L159.4,250.4 L157.2,252.3 Z" fill="#3a60b6"/>
<path d="M162.0,250.4 L164.2,248.5 L166.4,250.4 L164.2,252.3 Z" fill="#3a60b6"/>
<path d="M172.3,250.4 L174.5,248.5 L176.7,250.4 L174.5,252.3 Z" fill="#3a60b6"/>
<path d="M186.8,250.4 L189.0,248.5 L191.2,250.4 L189.0,252.3 Z" fill="#3a60b6"/>
<path d="M194.9,250.4 L197.1,248.5 L199.3,250.4 L197.1,252.3 Z" fill="#3a60b6"/>
<path d="M221.5,250.4 L223.7,248.5 L225.9,250.4 L223.7,252.3 Z" fill="#3a60b6"/>
<path d="M44.5,180.5 L47.6,183.3 L51.4,188.0 L57.1,191.9 L60.0,196.6 L64.7,199.5 L70.4,204.2 L76.1,212.8 L80.9,214.7 L83.7,218.5 L86.6,226.1 L89.4,230.9 L97.0,231.8 L100.9,234.7 L103.7,240.4 L105.6,242.7" fill="none" stroke="#e3261e" stroke-width="2.0" stroke-linejoin="round" stroke-linecap="round"/>
<path d="M42.6,180.5L44.5,178.9L46.4,180.5L44.5,182.1ZM44.5,182.2L46.4,180.6L48.3,182.2L46.4,183.8ZM46.3,184.1L48.2,182.5L50.1,184.1L48.2,185.7ZM48.0,186.1L49.9,184.5L51.8,186.1L49.9,187.7ZM49.6,188.1L51.5,186.5L53.4,188.1L51.5,189.7ZM51.8,189.6L53.7,188.0L55.6,189.6L53.7,191.2ZM53.9,191.0L55.8,189.4L57.7,191.0L55.8,192.6ZM55.8,192.8L57.7,191.2L59.6,192.8L57.7,194.4ZM57.1,195.0L59.0,193.4L60.9,195.0L59.0,196.6ZM58.7,197.0L60.6,195.4L62.5,197.0L60.6,198.6ZM61.0,198.4L62.9,196.8L64.8,198.4L62.9,200.0ZM63.1,199.8L65.0,198.2L66.9,199.8L65.0,201.4ZM65.1,201.4L67.0,199.8L68.9,201.4L67.0,203.0ZM67.1,203.1L69.0,201.5L70.9,203.1L69.0,204.7ZM69.0,204.9L70.9,203.3L72.8,204.9L70.9,206.5ZM70.4,207.1L72.3,205.5L74.2,207.1L72.3,208.7ZM71.8,209.2L73.7,207.6L75.6,209.2L73.7,210.8ZM73.3,211.4L75.2,209.8L77.1,211.4L75.2,213.0ZM75.1,213.1L77.0,211.5L78.9,213.1L77.0,214.7ZM77.5,214.1L79.4,212.5L81.3,214.1L79.4,215.7ZM79.6,215.5L81.5,213.9L83.4,215.5L81.5,217.1ZM81.1,217.6L83.0,216.0L84.9,217.6L83.0,219.2ZM82.3,219.8L84.2,218.2L86.1,219.8L84.2,221.4ZM83.2,222.3L85.1,220.7L87.0,222.3L85.1,223.9ZM84.2,224.7L86.1,223.1L88.0,224.7L86.1,226.3ZM85.3,227.1L87.2,225.5L89.1,227.1L87.2,228.7ZM86.6,229.3L88.5,227.7L90.4,229.3L88.5,230.9ZM88.2,231.0L90.1,229.4L92.0,231.0L90.1,232.6ZM90.8,231.3L92.7,229.7L94.6,231.3L92.7,232.9ZM93.4,231.6L95.3,230.0L97.2,231.6L95.3,233.2ZM95.8,232.3L97.7,230.7L99.6,232.3L97.7,233.9ZM97.9,233.9L99.8,232.3L101.7,233.9L99.8,235.5ZM99.5,235.8L101.4,234.2L103.3,235.8L101.4,237.4ZM100.7,238.1L102.6,236.5L104.5,238.1L102.6,239.7ZM101.9,240.5L103.8,238.9L105.7,240.5L103.8,242.1ZM103.5,242.5L105.4,240.9L107.3,242.5L105.4,244.1Z" fill="#e3261e"/>
<path d="M105.6,242.7 H107.2 V250.8 H123.0 V253.5 H124.8 V258.4 H132.7 V264.1 H139.4 V269.3 H148.3 V277.0 H149.3 V283.8 H255.6 V283.8" fill="none" stroke="#e3261e" stroke-width="1" stroke-opacity="0.8"/>
<path d="M106.4,250.8 L108.6,248.9 L110.8,250.8 L108.6,252.7 Z" fill="#e3261e"/>
<path d="M109.8,250.8 L112.0,248.9 L114.2,250.8 L112.0,252.7 Z" fill="#e3261e"/>
<path d="M113.8,250.8 L116.0,248.9 L118.2,250.8 L116.0,252.7 Z" fill="#e3261e"/>
<path d="M116.8,250.8 L119.0,248.9 L121.2,250.8 L119.0,252.7 Z" fill="#e3261e"/>
<path d="M119.6,250.8 L121.8,248.9 L124.0,250.8 L121.8,252.7 Z" fill="#e3261e"/>
<path d="M123.4,258.5 L125.6,256.6 L127.8,258.5 L125.6,260.4 Z" fill="#e3261e"/>
<path d="M125.3,258.5 L127.5,256.6 L129.7,258.5 L127.5,260.4 Z" fill="#e3261e"/>
<path d="M127.6,258.5 L129.8,256.6 L132.0,258.5 L129.8,260.4 Z" fill="#e3261e"/>
<path d="M130.0,258.5 L132.2,256.6 L134.4,258.5 L132.2,260.4 Z" fill="#e3261e"/>
<path d="M132.3,264.1 L134.5,262.2 L136.7,264.1 L134.5,266.0 Z" fill="#e3261e"/>
<path d="M135.3,264.1 L137.5,262.2 L139.7,264.1 L137.5,266.0 Z" fill="#e3261e"/>
<path d="M138.7,269.3 L140.9,267.4 L143.1,269.3 L140.9,271.2 Z" fill="#e3261e"/>
<path d="M143.1,269.3 L145.3,267.4 L147.5,269.3 L145.3,271.2 Z" fill="#e3261e"/>
<path d="M147.4,283.8 L149.6,281.9 L151.8,283.8 L149.6,285.7 Z" fill="#e3261e"/>
<path d="M149.7,283.8 L151.9,281.9 L154.1,283.8 L151.9,285.7 Z" fill="#e3261e"/>
<path d="M152.7,283.8 L154.9,281.9 L157.1,283.8 L154.9,285.7 Z" fill="#e3261e"/>
<path d="M155.3,283.8 L157.5,281.9 L159.7,283.8 L157.5,285.7 Z" fill="#e3261e"/>
<path d="M162.8,283.8 L165.0,281.9 L167.2,283.8 L165.0,285.7 Z" fill="#e3261e"/>
<path d="M182.1,283.8 L184.3,281.9 L186.5,283.8 L184.3,285.7 Z" fill="#e3261e"/>
<path d="M187.8,283.8 L190.0,281.9 L192.2,283.8 L190.0,285.7 Z" fill="#e3261e"/>
<path d="M198.2,283.8 L200.4,281.9 L202.6,283.8 L200.4,285.7 Z" fill="#e3261e"/>
<path d="M222.8,283.8 L225.0,281.9 L227.2,283.8 L225.0,285.7 Z" fill="#e3261e"/>
<path d="M253.4,283.8 L255.6,281.9 L257.8,283.8 L255.6,285.7 Z" fill="#e3261e"/>
<path d="M104.5,177.5 V191.5 M101.2,187.6 L104.5,191.6 L107.8,187.6" fill="none" stroke="#111" stroke-width="1.1"/>
<text x="112.8" y="189" font-size="14" font-weight="bold">(<tspan font-style="italic">AKAP12</tspan>, <tspan font-style="italic">RB1</tspan>)</text>
<text x="64.3" y="315.2" font-size="11.6" fill="#111">Logrank</text>
<text x="113.4" y="315.2" font-size="11.6" fill="#111">Test</text>
<text x="142.6" y="315.2" font-size="11.6" fill="#111">P-value</text>
<text x="185" y="315.2" font-size="11.6" fill="#111">=</text>
<text x="195" y="315.2" font-size="11.6" fill="#111">6.245e-4</text>
<rect x="64.90" y="325.90" width="9.00" height="8.40" fill="#e8101c" stroke="#333" stroke-width="0.8"/>
<text x="82" y="334.3" font-size="13" fill="#111">with alterations</text>
<rect x="64.90" y="342.90" width="9.00" height="8.40" fill="#2f4fa8" stroke="#333" stroke-width="0.8"/>
<text x="82" y="350.2" font-size="13" fill="#111">without alterations</text>
<line x1="285.8" y1="167.6" x2="285.8" y2="368" stroke="#8a8a8a" stroke-width="1"/>
<line x1="285.8" y1="368" x2="502.7" y2="368" stroke="#8a8a8a" stroke-width="1"/>
<line x1="283.6" y1="368.0" x2="285.8" y2="368.0" stroke="#8a8a8a" stroke-width="1"/>
<text x="281.2" y="372.6" font-size="11" text-anchor="end" fill="#222">0</text>
<line x1="283.6" y1="348.88" x2="285.8" y2="348.88" stroke="#8a8a8a" stroke-width="1"/>
<line x1="283.6" y1="329.76" x2="285.8" y2="329.76" stroke="#8a8a8a" stroke-width="1"/>
<text x="281.2" y="334.36" font-size="11" text-anchor="end" fill="#222">20</text>
<line x1="283.6" y1="310.64" x2="285.8" y2="310.64" stroke="#8a8a8a" stroke-width="1"/>
<line x1="283.6" y1="291.52" x2="285.8" y2="291.52" stroke="#8a8a8a" stroke-width="1"/>
<text x="281.2" y="296.12" font-size="11" text-anchor="end" fill="#222">40</text>
<line x1="283.6" y1="272.4" x2="285.8" y2="272.4" stroke="#8a8a8a" stroke-width="1"/>
<line x1="283.6" y1="253.28" x2="285.8" y2="253.28" stroke="#8a8a8a" stroke-width="1"/>
<text x="281.2" y="257.88" font-size="11" text-anchor="end" fill="#222">60</text>
<line x1="283.6" y1="234.16" x2="285.8" y2="234.16" stroke="#8a8a8a" stroke-width="1"/>
<line x1="283.6" y1="215.04000000000002" x2="285.8" y2="215.04000000000002" stroke="#8a8a8a" stroke-width="1"/>
<text x="281.2" y="219.64000000000001" font-size="11" text-anchor="end" fill="#222">80</text>
<line x1="283.6" y1="195.92000000000002" x2="285.8" y2="195.92000000000002" stroke="#8a8a8a" stroke-width="1"/>
<line x1="283.6" y1="176.8" x2="285.8" y2="176.8" stroke="#8a8a8a" stroke-width="1"/>
<text x="281.2" y="181.4" font-size="11" text-anchor="end" fill="#222">100</text>
<line x1="285.8" y1="368" x2="285.8" y2="370.2" stroke="#8a8a8a" stroke-width="1"/>
<text x="286.1" y="380.6" font-size="11" text-anchor="middle" fill="#222">0</text>
<line x1="298.86" y1="368" x2="298.86" y2="370.2" stroke="#8a8a8a" stroke-width="1"/>
<line x1="311.92" y1="368" x2="311.92" y2="370.2" stroke="#8a8a8a" stroke-width="1"/>
<text x="312.22" y="380.6" font-size="11" text-anchor="middle" fill="#222">20</text>
<line x1="324.98" y1="368" x2="324.98" y2="370.2" stroke="#8a8a8a" stroke-width="1"/>
<line x1="338.04" y1="368" x2="338.04" y2="370.2" stroke="#8a8a8a" stroke-width="1"/>
<text x="338.34000000000003" y="380.6" font-size="11" text-anchor="middle" fill="#222">40</text>
<line x1="351.1" y1="368" x2="351.1" y2="370.2" stroke="#8a8a8a" stroke-width="1"/>
<line x1="364.16" y1="368" x2="364.16" y2="370.2" stroke="#8a8a8a" stroke-width="1"/>
<text x="364.46000000000004" y="380.6" font-size="11" text-anchor="middle" fill="#222">60</text>
<line x1="377.22" y1="368" x2="377.22" y2="370.2" stroke="#8a8a8a" stroke-width="1"/>
<line x1="390.28000000000003" y1="368" x2="390.28000000000003" y2="370.2" stroke="#8a8a8a" stroke-width="1"/>
<text x="390.58000000000004" y="380.6" font-size="11" text-anchor="middle" fill="#222">80</text>
<line x1="403.34000000000003" y1="368" x2="403.34000000000003" y2="370.2" stroke="#8a8a8a" stroke-width="1"/>
<line x1="416.4" y1="368" x2="416.4" y2="370.2" stroke="#8a8a8a" stroke-width="1"/>
<text x="416.7" y="380.6" font-size="11" text-anchor="middle" fill="#222">100</text>
<line x1="429.46000000000004" y1="368" x2="429.46000000000004" y2="370.2" stroke="#8a8a8a" stroke-width="1"/>
<line x1="442.52" y1="368" x2="442.52" y2="370.2" stroke="#8a8a8a" stroke-width="1"/>
<text x="442.82" y="380.6" font-size="11" text-anchor="middle" fill="#222">120</text>
<line x1="455.58000000000004" y1="368" x2="455.58000000000004" y2="370.2" stroke="#8a8a8a" stroke-width="1"/>
<line x1="468.64" y1="368" x2="468.64" y2="370.2" stroke="#8a8a8a" stroke-width="1"/>
<text x="468.94" y="380.6" font-size="11" text-anchor="middle" fill="#222">140</text>
<line x1="481.70000000000005" y1="368" x2="481.70000000000005" y2="370.2" stroke="#8a8a8a" stroke-width="1"/>
<line x1="494.76" y1="368" x2="494.76" y2="370.2" stroke="#8a8a8a" stroke-width="1"/>
<text x="495.06" y="380.6" font-size="11" text-anchor="middle" fill="#222">160</text>
<path d="M285.8,176.7 L291.5,177.6 L295.3,180.5 L301.0,184.3 L304.8,189.0 L312.4,189.4 L316.2,194.7 L327.6,195.1 L330.5,198.1 L341.9,198.5 L343.8,201.4 L360.0,201.8 L361.9,206.1 L366.6,206.7 L368.5,213.4 L372.9,213.7 L373.3,221.0 L378.0,221.4" fill="none" stroke="#3a60b6" stroke-width="2.0" stroke-linejoin="round" stroke-linecap="round"/>
<path d="M283.9,176.7L285.8,175.1L287.7,176.7L285.8,178.3ZM286.5,177.1L288.4,175.5L290.3,177.1L288.4,178.7ZM289.0,177.5L290.9,175.9L292.8,177.5L290.9,179.1ZM291.2,178.8L293.1,177.2L295.0,178.8L293.1,180.4ZM293.3,180.4L295.2,178.8L297.1,180.4L295.2,182.0ZM295.4,181.9L297.3,180.3L299.2,181.9L297.3,183.5ZM297.6,183.3L299.5,181.7L301.4,183.3L299.5,184.9ZM299.6,184.9L301.5,183.3L303.4,184.9L301.5,186.5ZM301.2,186.9L303.1,185.3L305.0,186.9L303.1,188.5ZM302.9,189.0L304.8,187.4L306.7,189.0L304.8,190.6ZM305.5,189.1L307.4,187.5L309.3,189.1L307.4,190.7ZM308.0,189.3L309.9,187.7L311.8,189.3L309.9,190.9ZM310.6,189.5L312.5,187.9L314.4,189.5L312.5,191.1ZM312.1,191.6L314.0,190.0L315.9,191.6L314.0,193.2ZM313.6,193.7L315.5,192.1L317.4,193.7L315.5,195.3ZM315.7,194.7L317.6,193.1L319.5,194.7L317.6,196.3ZM318.3,194.8L320.2,193.2L322.1,194.8L320.2,196.4ZM320.9,194.9L322.8,193.3L324.7,194.9L322.8,196.5ZM323.5,195.0L325.4,193.4L327.3,195.0L325.4,196.6ZM326.0,195.4L327.9,193.8L329.8,195.4L327.9,197.0ZM327.8,197.3L329.7,195.7L331.6,197.3L329.7,198.9ZM330.0,198.2L331.9,196.6L333.8,198.2L331.9,199.8ZM332.6,198.2L334.5,196.6L336.4,198.2L334.5,199.8ZM335.2,198.3L337.1,196.7L339.0,198.3L337.1,199.9ZM337.8,198.4L339.7,196.8L341.6,198.4L339.7,200.0ZM340.2,198.9L342.1,197.3L344.0,198.9L342.1,200.5ZM341.7,201.0L343.6,199.4L345.5,201.0L343.6,202.6ZM344.1,201.5L346.0,199.9L347.9,201.5L346.0,203.1ZM346.7,201.5L348.6,199.9L350.5,201.5L348.6,203.1ZM349.3,201.6L351.2,200.0L353.1,201.6L351.2,203.2ZM351.9,201.6L353.8,200.0L355.7,201.6L353.8,203.2ZM354.5,201.7L356.4,200.1L358.3,201.7L356.4,203.3ZM357.1,201.8L359.0,200.2L360.9,201.8L359.0,203.4ZM358.7,203.2L360.6,201.6L362.5,203.2L360.6,204.8ZM359.8,205.6L361.7,204.0L363.6,205.6L361.7,207.2ZM362.0,206.4L363.9,204.8L365.8,206.4L363.9,208.0ZM364.6,206.7L366.5,205.1L368.4,206.7L366.5,208.3ZM365.4,209.1L367.3,207.5L369.2,209.1L367.3,210.7ZM366.1,211.6L368.0,210.0L369.9,211.6L368.0,213.2ZM367.4,213.5L369.3,211.9L371.2,213.5L369.3,215.1ZM370.0,213.6L371.9,212.0L373.8,213.6L371.9,215.2ZM371.1,215.2L373.0,213.6L374.9,215.2L373.0,216.8ZM371.2,217.8L373.1,216.2L375.0,217.8L373.1,219.4ZM371.4,220.4L373.3,218.8L375.2,220.4L373.3,222.0ZM373.4,221.2L375.3,219.6L377.2,221.2L375.3,222.8ZM376.0,221.4L377.9,219.8L379.8,221.4L377.9,223.0Z" fill="#3a60b6"/>
<path d="M378.0,221.4 H378.6 V234.3 H386.6 V249.3 H468.6 V249.3" fill="none" stroke="#3a60b6" stroke-width="1" stroke-opacity="0.8"/>
<path d="M384.4,234.6 L386.6,232.7 L388.8,234.6 L386.6,236.5 Z" fill="#3a60b6"/>
<path d="M388.8,249.4 L391.0,247.5 L393.2,249.4 L391.0,251.3 Z" fill="#3a60b6"/>
<path d="M391.5,249.4 L393.7,247.5 L395.9,249.4 L393.7,251.3 Z" fill="#3a60b6"/>
<path d="M395.8,249.4 L398.0,247.5 L400.2,249.4 L398.0,251.3 Z" fill="#3a60b6"/>
<path d="M398.7,249.4 L400.9,247.5 L403.1,249.4 L400.9,251.3 Z" fill="#3a60b6"/>
<path d="M405.9,249.4 L408.1,247.5 L410.3,249.4 L408.1,251.3 Z" fill="#3a60b6"/>
<path d="M431.3,249.4 L433.5,247.5 L435.7,249.4 L433.5,251.3 Z" fill="#3a60b6"/>
<path d="M466.4,249.4 L468.6,247.5 L470.8,249.4 L468.6,251.3 Z" fill="#3a60b6"/>
<path d="M285.8,176.7 L291.5,182.4 L295.3,187.1 L301.0,191.9 L308.6,196.6 L316.2,202.3 L320.0,205.8 L324.8,207.1 L327.6,213.7 L330.5,219.8 L335.3,222.3 L341.0,226.1 L344.8,230.9 L347.6,234.7 L349.5,241.3 L356.2,241.9 L357.1,244.2 L365.7,244.6 L367.6,248.0 L369.5,251.8 L375.2,252.2" fill="none" stroke="#e3261e" stroke-width="2.0" stroke-linejoin="round" stroke-linecap="round"/>
<path d="M283.9,176.7L285.8,175.1L287.7,176.7L285.8,178.3ZM285.7,178.5L287.6,176.9L289.5,178.5L287.6,180.1ZM287.6,180.4L289.5,178.8L291.4,180.4L289.5,182.0ZM289.4,182.2L291.3,180.6L293.2,182.2L291.3,183.8ZM291.1,184.2L293.0,182.6L294.9,184.2L293.0,185.8ZM292.7,186.2L294.6,184.6L296.5,186.2L294.6,187.8ZM294.5,188.1L296.4,186.5L298.3,188.1L296.4,189.7ZM296.5,189.7L298.4,188.1L300.3,189.7L298.4,191.3ZM298.5,191.4L300.4,189.8L302.3,191.4L300.4,193.0ZM300.7,192.9L302.6,191.3L304.5,192.9L302.6,194.5ZM302.9,194.2L304.8,192.6L306.7,194.2L304.8,195.8ZM305.1,195.6L307.0,194.0L308.9,195.6L307.0,197.2ZM307.3,197.0L309.2,195.4L311.1,197.0L309.2,198.6ZM309.3,198.6L311.2,197.0L313.1,198.6L311.2,200.2ZM311.4,200.1L313.3,198.5L315.2,200.1L313.3,201.7ZM313.5,201.7L315.4,200.1L317.3,201.7L315.4,203.3ZM315.5,203.4L317.4,201.8L319.3,203.4L317.4,205.0ZM317.4,205.2L319.3,203.6L321.2,205.2L319.3,206.8ZM319.7,206.2L321.6,204.6L323.5,206.2L321.6,207.8ZM322.2,206.9L324.1,205.3L326.0,206.9L324.1,208.5ZM323.6,208.8L325.5,207.2L327.4,208.8L325.5,210.4ZM324.6,211.2L326.5,209.6L328.4,211.2L326.5,212.8ZM325.7,213.6L327.6,212.0L329.5,213.6L327.6,215.2ZM326.8,216.0L328.7,214.4L330.6,216.0L328.7,217.6ZM327.9,218.3L329.8,216.7L331.7,218.3L329.8,219.9ZM329.4,220.2L331.3,218.6L333.2,220.2L331.3,221.8ZM331.7,221.4L333.6,219.8L335.5,221.4L333.6,223.0ZM334.0,222.7L335.9,221.1L337.8,222.7L335.9,224.3ZM336.2,224.1L338.1,222.5L340.0,224.1L338.1,225.7ZM338.3,225.6L340.2,224.0L342.1,225.6L340.2,227.2ZM340.1,227.4L342.0,225.8L343.9,227.4L342.0,229.0ZM341.8,229.5L343.7,227.9L345.6,229.5L343.7,231.1ZM343.4,231.5L345.3,229.9L347.2,231.5L345.3,233.1ZM344.9,233.6L346.8,232.0L348.7,233.6L346.8,235.2ZM346.0,235.9L347.9,234.3L349.8,235.9L347.9,237.5ZM346.8,238.4L348.7,236.8L350.6,238.4L348.7,240.0ZM347.5,240.9L349.4,239.3L351.3,240.9L349.4,242.5ZM349.8,241.5L351.7,239.9L353.6,241.5L351.7,243.1ZM352.4,241.7L354.3,240.1L356.2,241.7L354.3,243.3ZM354.5,242.5L356.4,240.9L358.3,242.5L356.4,244.1ZM356.0,244.2L357.9,242.6L359.8,244.2L357.9,245.8ZM358.6,244.4L360.5,242.8L362.4,244.4L360.5,246.0ZM361.2,244.5L363.1,242.9L365.0,244.5L363.1,246.1ZM363.8,244.6L365.7,243.0L367.6,244.6L365.7,246.2ZM365.1,246.8L367.0,245.2L368.9,246.8L367.0,248.4ZM366.3,249.1L368.2,247.5L370.1,249.1L368.2,250.7ZM367.4,251.5L369.3,249.9L371.2,251.5L369.3,253.1ZM369.8,252.0L371.7,250.4L373.6,252.0L371.7,253.6ZM372.4,252.1L374.3,250.5L376.2,252.1L374.3,253.7Z" fill="#e3261e"/>
<path d="M375.2,252.2 H376.1 V256.5 H381.4 V262.3 H391.4 V268.9 H392.9 V275.5 H501.1 V275.5" fill="none" stroke="#e3261e" stroke-width="1" stroke-opacity="0.8"/>
<path d="M375.3,256.7 L377.5,254.8 L379.7,256.7 L377.5,258.6 Z" fill="#e3261e"/>
<path d="M377.8,256.7 L380.0,254.8 L382.2,256.7 L380.0,258.6 Z" fill="#e3261e"/>
<path d="M381.6,262.3 L383.8,260.4 L386.0,262.3 L383.8,264.2 Z" fill="#e3261e"/>
<path d="M386.3,262.3 L388.5,260.4 L390.7,262.3 L388.5,264.2 Z" fill="#e3261e"/>
<path d="M390.7,275.5 L392.9,273.6 L395.1,275.5 L392.9,277.4 Z" fill="#e3261e"/>
<path d="M392.0,275.5 L394.2,273.6 L396.4,275.5 L394.2,277.4 Z" fill="#e3261e"/>
<path d="M393.9,275.5 L396.1,273.6 L398.3,275.5 L396.1,277.4 Z" fill="#e3261e"/>
<path d="M396.2,275.5 L398.4,273.6 L400.6,275.5 L398.4,277.4 Z" fill="#e3261e"/>
<path d="M398.7,275.5 L400.9,273.6 L403.1,275.5 L400.9,277.4 Z" fill="#e3261e"/>
<path d="M406.6,275.5 L408.8,273.6 L411.0,275.5 L408.8,277.4 Z" fill="#e3261e"/>
<path d="M416.3,275.5 L418.5,273.6 L420.7,275.5 L418.5,277.4 Z" fill="#e3261e"/>
<path d="M426.2,275.5 L428.4,273.6 L430.6,275.5 L428.4,277.4 Z" fill="#e3261e"/>
<path d="M431.5,275.5 L433.7,273.6 L435.9,275.5 L433.7,277.4 Z" fill="#e3261e"/>
<path d="M432.8,275.5 L435.0,273.6 L437.2,275.5 L435.0,277.4 Z" fill="#e3261e"/>
<path d="M438.9,275.5 L441.1,273.6 L443.3,275.5 L441.1,277.4 Z" fill="#e3261e"/>
<path d="M442.9,275.5 L445.1,273.6 L447.3,275.5 L445.1,277.4 Z" fill="#e3261e"/>
<path d="M467.6,275.5 L469.8,273.6 L472.0,275.5 L469.8,277.4 Z" fill="#e3261e"/>
<path d="M498.9,275.5 L501.1,273.6 L503.3,275.5 L501.1,277.4 Z" fill="#e3261e"/>
<path d="M353.6,178.4 V192.8 M350.3,188.8 L353.6,192.9 L356.9,188.8" fill="none" stroke="#111" stroke-width="1.1"/>
<text x="361.8" y="189.8" font-size="14" font-weight="bold">(<tspan font-style="italic">PTEN</tspan>, <tspan font-style="italic">RB1</tspan>)</text>
<text x="311.1" y="313.1" font-size="11.6" fill="#111">Logrank</text>
<text x="360.20000000000005" y="313.1" font-size="11.6" fill="#111">Test</text>
<text x="389.4" y="313.1" font-size="11.6" fill="#111">P-value</text>
<text x="431.8" y="313.1" font-size="11.6" fill="#111">=</text>
<text x="441.8" y="313.1" font-size="11.6" fill="#111">6.788e-3</text>
<rect x="311.50" y="325.20" width="8.60" height="8.20" fill="#e8101c" stroke="#333" stroke-width="0.8"/>
<text x="327.7" y="333.5" font-size="13" fill="#111">with alterations</text>
<rect x="311.50" y="340.70" width="8.60" height="8.60" fill="#2f4fa8" stroke="#333" stroke-width="0.8"/>
<text x="327.7" y="349" font-size="13" fill="#111">without alterations</text>
<text transform="translate(19,269) rotate(-90)" font-size="14" font-weight="bold" text-anchor="middle">% Disease free</text>
<text transform="translate(515.5,277) rotate(90)" font-size="16.1" font-weight="bold" text-anchor="middle">TCGA Prostate</text>
<text x="160.5" y="404.2" font-size="14.25" font-weight="bold" text-anchor="middle" fill="#000">Months disease free</text>
<text x="399.7" y="404.4" font-size="14.25" font-weight="bold" text-anchor="middle" fill="#000">Months disease free</text>
<line x1="98.1" y1="409" x2="98.1" y2="491" stroke="#d9d9d9" stroke-width="1"/>
<line x1="141.2" y1="409" x2="141.2" y2="491" stroke="#d9d9d9" stroke-width="1"/>
<line x1="193.1" y1="409" x2="193.1" y2="491" stroke="#d9d9d9" stroke-width="1"/>
<line x1="20" y1="459" x2="20" y2="491" stroke="#d9d9d9" stroke-width="1"/>
<line x1="280.4" y1="459" x2="280.4" y2="491" stroke="#d9d9d9" stroke-width="1"/>
<line x1="20" y1="475.5" x2="280.4" y2="475.5" stroke="#d9d9d9" stroke-width="1"/>
<line x1="20" y1="490.9" x2="521.5" y2="490.9" stroke="#d9d9d9" stroke-width="1"/>
<line x1="20" y1="459.3" x2="280.4" y2="459.3" stroke="#222" stroke-width="1.6"/>
<text x="119.6" y="431.7" font-size="11.7" font-weight="bold" text-anchor="middle" fill="#000"># total</text>
<text x="119.6" y="445.3" font-size="11.7" font-weight="bold" text-anchor="middle" fill="#000">cases</text>
<text x="167" y="431.7" font-size="11.7" font-weight="bold" text-anchor="middle" fill="#000"># cases</text>
<text x="167" y="445.3" font-size="11.7" font-weight="bold" text-anchor="middle" fill="#000">relapsed</text>
<text x="236.6" y="424.5" font-size="11.7" font-weight="bold" text-anchor="middle" fill="#000">median</text>
<text x="236.6" y="438.5" font-size="11.7" font-weight="bold" text-anchor="middle" fill="#000">months</text>
<text x="236.6" y="452.6" font-size="11.7" font-weight="bold" text-anchor="middle" fill="#000">disease free</text>
<text x="59" y="472.3" font-size="12" text-anchor="middle" fill="#111">alterations</text>
<text x="59" y="487.6" font-size="12" text-anchor="middle" fill="#111">No alterations</text>
<text x="119.6" y="472.3" font-size="12" text-anchor="middle" fill="#111">238</text>
<text x="119.6" y="487.6" font-size="12" text-anchor="middle" fill="#111">247</text>
<text x="167" y="472.3" font-size="12" text-anchor="middle" fill="#111">60</text>
<text x="167" y="487.6" font-size="12" text-anchor="middle" fill="#111">29</text>
<text x="236.6" y="472.3" font-size="12" text-anchor="middle" fill="#111">81.24</text>
<text x="236.6" y="487.6" font-size="12" text-anchor="middle" fill="#111">NA</text>
<line x1="360.6" y1="422" x2="360.6" y2="491" stroke="#d9d9d9" stroke-width="1"/>
<line x1="416.7" y1="422" x2="416.7" y2="491" stroke="#d9d9d9" stroke-width="1"/>
<line x1="310.1" y1="422" x2="310.1" y2="491" stroke="#d9d9d9" stroke-width="1"/>
<line x1="521.5" y1="459" x2="521.5" y2="491" stroke="#d9d9d9" stroke-width="1"/>
<line x1="310.1" y1="475.3" x2="521.5" y2="475.3" stroke="#d9d9d9" stroke-width="1"/>
<line x1="310.1" y1="459.5" x2="521.5" y2="459.5" stroke="#222" stroke-width="1.6"/>
<text x="335.4" y="439" font-size="11.7" font-weight="bold" text-anchor="middle" fill="#000"># total</text>
<text x="335.4" y="452" font-size="11.7" font-weight="bold" text-anchor="middle" fill="#000">cases</text>
<text x="388.6" y="439" font-size="11.7" font-weight="bold" text-anchor="middle" fill="#000"># cases</text>
<text x="388.6" y="452" font-size="11.7" font-weight="bold" text-anchor="middle" fill="#000">relapsed</text>
<text x="469.1" y="439" font-size="11.7" font-weight="bold" text-anchor="middle" fill="#000">median months</text>
<text x="469.1" y="452" font-size="11.7" font-weight="bold" text-anchor="middle" fill="#000">disease free</text>
<text x="335.4" y="471.5" font-size="12" text-anchor="middle" fill="#111">290</text>
<text x="335.4" y="487" font-size="12" text-anchor="middle" fill="#111">195</text>
<text x="388.6" y="471.5" font-size="12" text-anchor="middle" fill="#111">67</text>
<text x="388.6" y="487" font-size="12" text-anchor="middle" fill="#111">22</text>
<text x="469.1" y="471.5" font-size="12" text-anchor="middle" fill="#111">82.29</text>
<text x="469.1" y="487" font-size="12" text-anchor="middle" fill="#111">NA</text>
<text x="553.9" y="220.8" font-size="14.3" fill="#111">tet</text>
<text x="588.2" y="221" font-size="14" text-anchor="middle" fill="#111">+</text>
<text x="615.6" y="221" font-size="14" text-anchor="middle" fill="#111">-</text>
<text x="636.4" y="225.9" font-size="13" font-weight="bold" fill="#000">IB:</text>
<line x1="636.6" y1="228.4" x2="654" y2="228.4" stroke="#000" stroke-width="1.2"/>
<rect x="573.5" y="223.5" width="60.0" height="27.0" fill="#e7e7e7" stroke="#474747" stroke-width="1.1"/>
<path d="M581.5,231.5 L597.0,231.0 Q598.5,231.0 598.5,233.5 Q598.5,236.0 597.0,236.0 L581.5,235.5 Q580,235.5 580,233.5 Q580,231.5 581.5,231.5 Z" fill="#d2d2d2" filter="url(#bl2)"/>
<path d="M608.1,233.0 L624.1,232.5 Q625.6,232.5 625.6,235 Q625.6,237.5 624.1,237.5 L608.1,237.0 Q606.6,237.0 606.6,235 Q606.6,233.0 608.1,233.0 Z" fill="#cfcfcf" filter="url(#bl2)"/>
<path d="M581.5,234.0 L597.0,233.7 Q598.5,233.7 598.5,235.2 Q598.5,236.7 597.0,236.7 L581.5,236.39999999999998 Q580,236.39999999999998 580,235.2 Q580,234.0 581.5,234.0 Z" fill="#646464" filter="url(#bl1)"/>
<path d="M608.1,235.4 L624.3,235.6 Q625.8,235.6 625.8,237.6 Q625.8,239.6 624.3,239.6 L608.1,238.6 Q606.6,238.6 606.6,237 Q606.6,235.4 608.1,235.4 Z" fill="#111" filter="url(#bl1)"/>
<rect x="573.5" y="255.6" width="59.0" height="10.7" fill="#ededed" stroke="#474747" stroke-width="1.1"/>
<path d="M586.0,259.34000000000003 L601.0,258.90000000000003 Q602.5,258.90000000000003 602.5,261.1 Q602.5,263.3 601.0,263.3 L586.0,262.86 Q584.5,262.86 584.5,261.1 Q584.5,259.34000000000003 586.0,259.34000000000003 Z" fill="#222" filter="url(#bl1)"/>
<path d="M611.7,258.46000000000004 L626.1,258.0 Q627.6,258.0 627.6,260.3 Q627.6,262.6 626.1,262.6 L611.7,262.14 Q610.2,262.14 610.2,260.3 Q610.2,258.46000000000004 611.7,258.46000000000004 Z" fill="#111" filter="url(#bl1)"/>
<rect x="573.5" y="271" width="59.0" height="34.5" fill="#e3e3e3" stroke="#474747" stroke-width="1.1"/>
<path d="M579.9,287.8 L597.9,287.35 Q599.4,287.35 599.4,289.6 Q599.4,291.85 597.9,291.85 L579.9,291.40000000000003 Q578.4,291.40000000000003 578.4,289.6 Q578.4,287.8 579.9,287.8 Z" fill="#0d0d0d" filter="url(#bl1)"/>
<path d="M607.8,287.4 L624.7,286.95 Q626.2,286.95 626.2,289.2 Q626.2,291.45 624.7,291.45 L607.8,291.0 Q606.3,291.0 606.3,289.2 Q606.3,287.4 607.8,287.4 Z" fill="#0d0d0d" filter="url(#bl1)"/>
<rect x="573.5" y="311.3" width="59.0" height="22.3" fill="#c8c8c8" stroke="#474747" stroke-width="1.1"/>
<path d="M584.3,321.86 L599.3,321.5 Q600.8,321.5 600.8,323.3 Q600.8,325.1 599.3,325.1 L584.3,324.74 Q582.8,324.74 582.8,323.3 Q582.8,321.86 584.3,321.86 Z" fill="#474747" filter="url(#bl1)"/>
<path d="M607.9,322.6 L620.7,322.3 Q622.2,322.3 622.2,323.8 Q622.2,325.3 620.7,325.3 L607.9,325.0 Q606.4,325.0 606.4,323.8 Q606.4,322.6 607.9,322.6 Z" fill="#939393" filter="url(#bl1)"/>
<rect x="573.5" y="339.4" width="59.0" height="26.1" fill="#ececec" stroke="#474747" stroke-width="1.1"/>
<path d="M583.3,349.59999999999997 L598.5,349.2 Q600,349.2 600,351.2 Q600,353.2 598.5,353.2 L583.3,352.8 Q581.8,352.8 581.8,351.2 Q581.8,349.59999999999997 583.3,349.59999999999997 Z" fill="#1a1a1a" filter="url(#bl1)"/>
<path d="M607.9,348.64 L624.3,346.2 Q625.8,346.2 625.8,348.4 Q625.8,350.59999999999997 624.3,350.59999999999997 L607.9,352.15999999999997 Q606.4,352.15999999999997 606.4,350.4 Q606.4,348.64 607.9,348.64 Z" fill="#0d0d0d" filter="url(#bl1)"/>
<rect x="573.5" y="371.5" width="59.0" height="16.3" fill="#e0e0e0" stroke="#474747" stroke-width="1.1"/>
<path d="M581.9,376.7 L602.1,376.0 Q603.6,376.0 603.6,379.5 Q603.6,383.0 602.1,383.0 L581.9,382.3 Q580.4,382.3 580.4,379.5 Q580.4,376.7 581.9,376.7 Z" fill="#000" filter="url(#bl1)"/>
<path d="M605.3,376.7 L625.3,376.0 Q626.8,376.0 626.8,379.5 Q626.8,383.0 625.3,383.0 L605.3,382.3 Q603.8,382.3 603.8,379.5 Q603.8,376.7 605.3,376.7 Z" fill="#000" filter="url(#bl1)"/>
<text x="635.3" y="240.6" font-size="9.7" font-weight="bold" fill="#000">SSeCKS</text>
<text x="635.3" y="264.2" font-size="9.7" font-weight="bold" fill="#000">p85α</text>
<text x="635.3" y="292.8" font-size="9.7" font-weight="bold" fill="#000">AKT</text>
<text x="635.3" y="353.5" font-size="9.7" font-weight="bold" fill="#000">PTEN</text>
<text x="635.3" y="384.2" font-size="9.7" font-weight="bold" fill="#000">Actin</text>
<text x="635.3" y="325.3" font-size="9.7" font-weight="bold" transform="translate(0,-35.2) scale(1,1.11)">pAKT</text>
<text x="660.5" y="323.0" font-size="6.4" font-weight="bold" fill="#333">poS473</text>
<text x="568.4" y="244.7" font-size="8.6" text-anchor="end" fill="#222">250</text>
<line x1="570.8" y1="242" x2="573.2" y2="242" stroke="#333" stroke-width="0.9"/>
<text x="568.4" y="266.59999999999997" font-size="8.6" text-anchor="end" fill="#222">80</text>
<line x1="570.8" y1="263.9" x2="573.2" y2="263.9" stroke="#333" stroke-width="0.9"/>
<text x="568.4" y="298.5" font-size="8.6" text-anchor="end" fill="#222">60</text>
<line x1="570.8" y1="295.8" x2="573.2" y2="295.8" stroke="#333" stroke-width="0.9"/>
<text x="568.4" y="331.4" font-size="8.6" text-anchor="end" fill="#222">60</text>
<line x1="570.8" y1="328.7" x2="573.2" y2="328.7" stroke="#333" stroke-width="0.9"/>
<text x="568.4" y="356.9" font-size="8.6" text-anchor="end" fill="#222">60</text>
<line x1="570.8" y1="354.2" x2="573.2" y2="354.2" stroke="#333" stroke-width="0.9"/>
<text x="568.4" y="379.9" font-size="8.6" text-anchor="end" fill="#222">40</text>
<line x1="570.8" y1="377.2" x2="573.2" y2="377.2" stroke="#333" stroke-width="0.9"/>
<text x="568.4" y="444.8" font-size="8.6" text-anchor="end" fill="#222">80</text>
<line x1="570.8" y1="442.1" x2="573.2" y2="442.1" stroke="#333" stroke-width="0.9"/>
<text x="568.4" y="462.2" font-size="8.6" text-anchor="end" fill="#222">80</text>
<line x1="570.8" y1="459.5" x2="573.2" y2="459.5" stroke="#333" stroke-width="0.9"/>
<text x="576.6" y="414.1" font-size="12.8" font-weight="bold" fill="#000">IP: p85α</text>
<line x1="571.6" y1="417.4" x2="633.9" y2="417.4" stroke="#000" stroke-width="1.3"/>
<text x="553.6" y="430.2" font-size="14.3" fill="#111">tet</text>
<text x="588.6" y="430.5" font-size="14" text-anchor="middle" fill="#111">+</text>
<text x="616" y="430.5" font-size="14" text-anchor="middle" fill="#111">-</text>
<rect x="572.8" y="432.5" width="59.8" height="14.1" fill="#e3e3e3" stroke="#474747" stroke-width="1.1"/>
<path d="M581.1,437.84 L596.5,437.5 Q598,437.5 598,439.2 Q598,440.9 596.5,440.9 L581.1,440.56 Q579.6,440.56 579.6,439.2 Q579.6,437.84 581.1,437.84 Z" fill="#0d0d0d" filter="url(#bl1)"/>
<path d="M607.3,437.84 L623.9,437.5 Q625.4,437.5 625.4,439.2 Q625.4,440.9 623.9,440.9 L607.3,440.56 Q605.8,440.56 605.8,439.2 Q605.8,437.84 607.3,437.84 Z" fill="#0d0d0d" filter="url(#bl1)"/>
<rect x="572.8" y="450.3" width="59.8" height="14.7" fill="url(#g5)" stroke="#474747" stroke-width="1.1"/>
<path d="M581.1,455.34000000000003 L592.5,454.90000000000003 Q594,454.90000000000003 594,457.1 Q594,459.3 592.5,459.3 L581.1,458.86 Q579.6,458.86 579.6,457.1 Q579.6,455.34000000000003 581.1,455.34000000000003 Z" fill="#000" filter="url(#bl1)"/>
<path d="M591.5,457.5 L598.5,457.25 Q600,457.25 600,458.5 Q600,459.75 598.5,459.75 L591.5,459.5 Q590,459.5 590,458.5 Q590,457.5 591.5,457.5 Z" fill="#888" filter="url(#bl2)"/>
<path d="M608.1,456.56 L624.8,456.2 Q626.3,456.2 626.3,458 Q626.3,459.8 624.8,459.8 L608.1,459.44 Q606.6,459.44 606.6,458 Q606.6,456.56 608.1,456.56 Z" fill="#888" filter="url(#bl2)"/>
<text x="635.5" y="442.6" font-size="9.7" font-weight="bold" fill="#000">p85α</text>
<text x="635.5" y="460.6" font-size="9.7" font-weight="bold" fill="#000">poY</text>
<rect x="29.40" y="528.30" width="624.60" height="14.80" fill="#f3f3f3"/>
<rect x="29.40" y="557.80" width="624.60" height="14.80" fill="#f3f3f3"/>
<rect x="29.40" y="587.30" width="624.60" height="14.90" fill="#f3f3f3"/>
<line x1="29.4" y1="527.3" x2="654" y2="527.3" stroke="#cfcfcf" stroke-width="1"/>
<text x="32.8" y="523.4" font-size="11.7" font-weight="bold" fill="#000">A</text>
<text x="111" y="523.4" font-size="11.7" font-weight="bold" fill="#000">B</text>
<text x="197.9" y="523.2" font-size="11.7" font-weight="bold" text-anchor="middle" fill="#000">Neither</text>
<text x="243.5" y="522.5" font-size="10.2" font-weight="bold" text-anchor="middle" fill="#000" letter-spacing="0.3">A Not B</text>
<text x="294.8" y="522.5" font-size="10.2" font-weight="bold" text-anchor="middle" fill="#000" letter-spacing="0.3">B Not A</text>
<text x="335.5" y="523.2" font-size="11.7" font-weight="bold" text-anchor="middle" fill="#000">Both</text>
<text x="401.9" y="523.2" font-size="11.7" font-weight="bold" text-anchor="middle" fill="#000">Log2 Odds Ratio</text>
<text x="476.1" y="523.2" font-size="11.7" font-weight="bold" text-anchor="middle" fill="#000">p-Value</text>
<text x="526.1" y="523.2" font-size="11.7" font-weight="bold" text-anchor="middle" fill="#000">q-Value</text>
<text x="556.7" y="523.2" font-size="11.7" font-weight="bold" fill="#000">Tendency</text>
<text x="33.3" y="539.1" font-size="10.6" fill="#2a2a2a">LYN: gain</text>
<text x="111" y="539.1" font-size="10.6" fill="#2a2a2a">SRC: gain</text>
<text x="197.9" y="539.1" font-size="10.6" text-anchor="middle" fill="#2a2a2a">337</text>
<text x="246.8" y="539.1" font-size="10.6" text-anchor="middle" fill="#2a2a2a">105</text>
<text x="295.1" y="539.1" font-size="10.6" text-anchor="middle" fill="#2a2a2a">20</text>
<text x="335" y="539.1" font-size="10.6" text-anchor="middle" fill="#2a2a2a">29</text>
<text x="401.9" y="539.1" font-size="10.6" text-anchor="middle" fill="#2a2a2a">2.218</text>
<text x="476.6" y="539.1" font-size="10.6" font-weight="bold" text-anchor="middle" fill="#000"><0.001</text>
<text x="527.2" y="539.1" font-size="10.6" font-weight="bold" text-anchor="middle" fill="#000"><0.001</text>
<text x="557.3" y="539.1" font-size="10.6" font-weight="bold" fill="#000">Co-occurrence</text>
<text x="33.3" y="553.87" font-size="10.6" fill="#2a2a2a">AKAP12: loss</text>
<text x="111" y="553.87" font-size="10.6" fill="#2a2a2a">LYN: gain</text>
<text x="197.9" y="553.87" font-size="10.6" text-anchor="middle" fill="#2a2a2a">332</text>
<text x="246.8" y="553.87" font-size="10.6" text-anchor="middle" fill="#2a2a2a">25</text>
<text x="295.1" y="553.87" font-size="10.6" text-anchor="middle" fill="#2a2a2a">109</text>
<text x="335" y="553.87" font-size="10.6" text-anchor="middle" fill="#2a2a2a">25</text>
<text x="401.9" y="553.87" font-size="10.6" text-anchor="middle" fill="#2a2a2a">1.607</text>
<text x="476.6" y="553.87" font-size="10.6" font-weight="bold" text-anchor="middle" fill="#000"><0.001</text>
<text x="527.2" y="553.87" font-size="10.6" font-weight="bold" text-anchor="middle" fill="#000"><0.001</text>
<text x="557.3" y="553.87" font-size="10.6" font-weight="bold" fill="#000">Co-occurrence</text>
<text x="33.3" y="568.64" font-size="10.6" fill="#2a2a2a">LYN: gain</text>
<text x="111" y="568.64" font-size="10.6" fill="#2a2a2a">FYN: gain</text>
<text x="197.9" y="568.64" font-size="10.6" text-anchor="middle" fill="#2a2a2a">349</text>
<text x="246.8" y="568.64" font-size="10.6" text-anchor="middle" fill="#2a2a2a">120</text>
<text x="295.1" y="568.64" font-size="10.6" text-anchor="middle" fill="#2a2a2a">8</text>
<text x="335" y="568.64" font-size="10.6" text-anchor="middle" fill="#2a2a2a">14</text>
<text x="401.9" y="568.64" font-size="10.6" text-anchor="middle" fill="#2a2a2a">2.348</text>
<text x="476.6" y="568.64" font-size="10.6" font-weight="bold" text-anchor="middle" fill="#000"><0.001</text>
<text x="527.2" y="568.64" font-size="10.6" font-weight="bold" text-anchor="middle" fill="#000"><0.001</text>
<text x="557.3" y="568.64" font-size="10.6" font-weight="bold" fill="#000">Co-occurrence</text>
<text x="33.3" y="583.4100000000001" font-size="10.6" fill="#2a2a2a">FYN: gain</text>
<text x="111" y="583.4100000000001" font-size="10.6" fill="#2a2a2a">SRC: gain</text>
<text x="197.9" y="583.4100000000001" font-size="10.6" text-anchor="middle" fill="#2a2a2a">425</text>
<text x="246.8" y="583.4100000000001" font-size="10.6" text-anchor="middle" fill="#2a2a2a">17</text>
<text x="295.1" y="583.4100000000001" font-size="10.6" text-anchor="middle" fill="#2a2a2a">44</text>
<text x="335" y="583.4100000000001" font-size="10.6" text-anchor="middle" fill="#2a2a2a">5</text>
<text x="401.9" y="583.4100000000001" font-size="10.6" text-anchor="middle" fill="#2a2a2a">1.506</text>
<text x="476.6" y="583.4100000000001" font-size="10.6" text-anchor="middle" fill="#2a2a2a">0.057</text>
<text x="527.2" y="583.4100000000001" font-size="10.6" text-anchor="middle" fill="#2a2a2a">0.086</text>
<text x="557.3" y="583.4100000000001" font-size="10.6" fill="#2a2a2a">Co-occurrence</text>
<text x="33.3" y="598.1800000000001" font-size="10.6" fill="#2a2a2a">AKAP12: loss</text>
<text x="111" y="598.1800000000001" font-size="10.6" fill="#2a2a2a">SRC: gain</text>
<text x="197.9" y="598.1800000000001" font-size="10.6" text-anchor="middle" fill="#2a2a2a">399</text>
<text x="246.8" y="598.1800000000001" font-size="10.6" text-anchor="middle" fill="#2a2a2a">43</text>
<text x="295.1" y="598.1800000000001" font-size="10.6" text-anchor="middle" fill="#2a2a2a">42</text>
<text x="335" y="598.1800000000001" font-size="10.6" text-anchor="middle" fill="#2a2a2a">7</text>
<text x="401.9" y="598.1800000000001" font-size="10.6" text-anchor="middle" fill="#2a2a2a">0.629</text>
<text x="476.6" y="598.1800000000001" font-size="10.6" text-anchor="middle" fill="#2a2a2a">0.219</text>
<text x="527.2" y="598.1800000000001" font-size="10.6" text-anchor="middle" fill="#2a2a2a">0.263</text>
<text x="557.3" y="598.1800000000001" font-size="10.6" fill="#2a2a2a">Co-occurrence</text>
<text x="33.3" y="612.95" font-size="10.6" fill="#2a2a2a">AKAP12: loss</text>
<text x="111" y="612.95" font-size="10.6" fill="#2a2a2a">FYN: gain</text>
<text x="197.9" y="612.95" font-size="10.6" text-anchor="middle" fill="#2a2a2a">420</text>
<text x="246.8" y="612.95" font-size="10.6" text-anchor="middle" fill="#2a2a2a">49</text>
<text x="295.1" y="612.95" font-size="10.6" text-anchor="middle" fill="#2a2a2a">21</text>
<text x="335" y="612.95" font-size="10.6" text-anchor="middle" fill="#2a2a2a">1</text>
<text x="401.9" y="612.95" font-size="10.6" text-anchor="middle" fill="#2a2a2a">-1.293</text>
<text x="476.6" y="612.95" font-size="10.6" text-anchor="middle" fill="#2a2a2a">0.323</text>
<text x="527.2" y="612.95" font-size="10.6" text-anchor="middle" fill="#2a2a2a">0.323</text>
<text x="557.3" y="612.95" font-size="10.6" fill="#2a2a2a">Mutual exclusivity</text>
<text x="33.3" y="627.72" font-size="10.6" fill="#2a2a2a">PTEN: loss</text>
<text x="111" y="627.72" font-size="10.6" fill="#2a2a2a">SRC<tspan font-size="7" dy="-4.5">poY416</tspan><tspan dy="4.5">-Hi</tspan></text>
<text x="197.9" y="627.72" font-size="10.6" text-anchor="middle" fill="#2a2a2a">180</text>
<text x="246.8" y="627.72" font-size="10.6" text-anchor="middle" fill="#2a2a2a">110</text>
<text x="295.1" y="627.72" font-size="10.6" text-anchor="middle" fill="#2a2a2a">45</text>
<text x="335" y="627.72" font-size="10.6" text-anchor="middle" fill="#2a2a2a">11</text>
<text x="401.9" y="627.72" font-size="10.6" text-anchor="middle" fill="#2a2a2a">-1.322</text>
<text x="476.6" y="627.72" font-size="10.6" font-weight="bold" text-anchor="middle" fill="#000">0.005</text>
<text x="527.2" y="627.72" font-size="10.6" font-weight="bold" text-anchor="middle" fill="#000">0.025</text>
<text x="557.3" y="627.72" font-size="10.6" font-weight="bold" fill="#000">Mutual Exclusivity</text>
</svg>
</body></html>
